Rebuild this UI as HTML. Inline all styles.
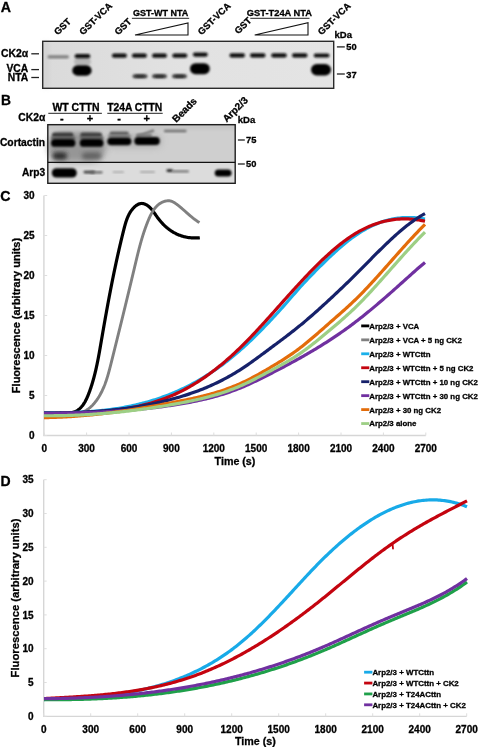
<!DOCTYPE html>
<html><head><meta charset="utf-8"><title>Figure</title>
<style>
html,body{margin:0;padding:0;background:#fff;width:480px;height:747px;overflow:hidden;}
svg{display:block;font-family:"Liberation Sans", sans-serif;filter:blur(0.35px);}
</style></head><body>
<svg width="480" height="747" viewBox="0 0 480 747" font-family='"Liberation Sans", sans-serif'>
<defs>
<filter id="b1" x="-50%" y="-50%" width="200%" height="200%"><feGaussianBlur stdDeviation="0.9"/></filter>
<filter id="b2" x="-50%" y="-50%" width="200%" height="200%"><feGaussianBlur stdDeviation="1.3"/></filter>
<filter id="b3" x="-50%" y="-50%" width="200%" height="200%"><feGaussianBlur stdDeviation="2"/></filter>
<filter id="b4" x="-50%" y="-50%" width="200%" height="200%"><feGaussianBlur stdDeviation="3"/></filter>
<linearGradient id="gA" x1="0" y1="0" x2="1" y2="0">
<stop offset="0" stop-color="#dadada"/><stop offset="0.5" stop-color="#e2e2e2"/><stop offset="1" stop-color="#e4e4e4"/></linearGradient>
</defs>
<text x="0.80" y="12.00" font-size="14.2" font-weight="bold" text-anchor="start" fill="#000" stroke="#000" stroke-width="0.3">A</text>
<text x="1.00" y="105.30" font-size="13.8" font-weight="bold" text-anchor="start" fill="#000" stroke="#000" stroke-width="0.3">B</text>
<text x="0.20" y="200.50" font-size="14.2" font-weight="bold" text-anchor="start" fill="#000" stroke="#000" stroke-width="0.3">C</text>
<text x="0.50" y="485.60" font-size="14" font-weight="bold" text-anchor="start" fill="#000" stroke="#000" stroke-width="0.3">D</text>
<rect x="42.7" y="41.3" width="291" height="47" fill="url(#gA)"/>
<rect x="43" y="42" width="6" height="46" fill="#cfcfcf" filter="url(#b3)" opacity="0.6"/>
<rect x="74.00" y="58.00" width="17.00" height="7.00" rx="3.50" fill="#8a8a8a" opacity="0.45" filter="url(#b2)"/>
<rect x="47.50" y="55.20" width="21.50" height="3.20" rx="1.60" fill="#808080" opacity="1" filter="url(#b1)"/>
<rect x="74.70" y="54.10" width="15.60" height="4.20" rx="2.10" fill="#111" opacity="1" filter="url(#b1)"/>
<rect x="72.30" y="65.15" width="19.30" height="10.50" rx="5.25" fill="#000" opacity="1" filter="url(#b1)"/>
<rect x="111.90" y="53.40" width="15.00" height="4.40" rx="2.20" fill="#0c0c0c" opacity="1" filter="url(#b1)"/>
<rect x="131.90" y="53.40" width="15.00" height="4.40" rx="2.20" fill="#0c0c0c" opacity="1" filter="url(#b1)"/>
<rect x="152.00" y="53.40" width="15.00" height="4.40" rx="2.20" fill="#0c0c0c" opacity="1" filter="url(#b1)"/>
<rect x="172.30" y="53.40" width="15.00" height="4.40" rx="2.20" fill="#0c0c0c" opacity="1" filter="url(#b1)"/>
<rect x="132.50" y="74.20" width="15.00" height="4.00" rx="2.00" fill="#4a4a4a" opacity="1" filter="url(#b1)"/>
<rect x="135.50" y="74.90" width="9.00" height="2.60" rx="1.30" fill="#2a2a2a" opacity="1" filter="url(#b1)"/>
<rect x="152.00" y="74.20" width="15.00" height="4.00" rx="2.00" fill="#4a4a4a" opacity="1" filter="url(#b1)"/>
<rect x="155.00" y="74.90" width="9.00" height="2.60" rx="1.30" fill="#2a2a2a" opacity="1" filter="url(#b1)"/>
<rect x="172.00" y="74.20" width="15.00" height="4.00" rx="2.00" fill="#4a4a4a" opacity="1" filter="url(#b1)"/>
<rect x="175.00" y="74.90" width="9.00" height="2.60" rx="1.30" fill="#2a2a2a" opacity="1" filter="url(#b1)"/>
<rect x="192.90" y="52.50" width="14.90" height="4.20" rx="2.10" fill="#111" opacity="1" filter="url(#b1)"/>
<rect x="190.00" y="63.20" width="19.80" height="11.00" rx="5.50" fill="#000" opacity="1" filter="url(#b1)"/>
<rect x="229.50" y="53.30" width="15.50" height="4.20" rx="2.10" fill="#0c0c0c" opacity="1" filter="url(#b1)"/>
<rect x="250.00" y="53.30" width="15.50" height="4.20" rx="2.10" fill="#0c0c0c" opacity="1" filter="url(#b1)"/>
<rect x="271.25" y="53.30" width="15.50" height="4.20" rx="2.10" fill="#0c0c0c" opacity="1" filter="url(#b1)"/>
<rect x="292.00" y="53.30" width="15.50" height="4.20" rx="2.10" fill="#0c0c0c" opacity="1" filter="url(#b1)"/>
<rect x="313.75" y="53.40" width="15.75" height="4.20" rx="2.10" fill="#111" opacity="1" filter="url(#b1)"/>
<rect x="311.00" y="63.95" width="20.00" height="11.50" rx="5.75" fill="#000" opacity="1" filter="url(#b1)"/>
<rect x="42.7" y="41.3" width="291" height="47" fill="none" stroke="#2a2a2a" stroke-width="1.4"/>
<text x="28.20" y="57.10" font-size="10.4" font-weight="bold" text-anchor="end" fill="#000" stroke="#000" stroke-width="0.3">CK2α</text>
<text x="28.20" y="71.60" font-size="10.3" font-weight="bold" text-anchor="end" fill="#000" stroke="#000" stroke-width="0.3">VCA</text>
<text x="28.20" y="81.30" font-size="10.3" font-weight="bold" text-anchor="end" fill="#000" stroke="#000" stroke-width="0.3">NTA</text>
<line x1="31.3" y1="53.8" x2="39" y2="53.8" stroke="#222" stroke-width="1.3"/>
<line x1="31.3" y1="69.6" x2="39" y2="69.6" stroke="#222" stroke-width="1.3"/>
<line x1="31.3" y1="77.5" x2="39" y2="77.5" stroke="#222" stroke-width="1.3"/>
<text x="334.50" y="37.70" font-size="9.5" font-weight="bold" text-anchor="start" fill="#000" stroke="#000" stroke-width="0.3">kDa</text>
<line x1="336.9" y1="46.9" x2="344.8" y2="46.9" stroke="#222" stroke-width="1.3"/>
<line x1="336.9" y1="74" x2="344.8" y2="74" stroke="#222" stroke-width="1.3"/>
<text x="346.30" y="50.00" font-size="9.3" font-weight="bold" text-anchor="start" fill="#000" stroke="#000" stroke-width="0.3">50</text>
<text x="346.30" y="77.50" font-size="9.3" font-weight="bold" text-anchor="start" fill="#000" stroke="#000" stroke-width="0.3">37</text>
<text x="57.80" y="35.60" font-size="9.3" font-weight="bold" text-anchor="start" fill="#000" transform="rotate(-44 57.80 35.60)" stroke="#000" stroke-width="0.3">GST</text>
<text x="83.00" y="35.40" font-size="9.3" font-weight="bold" text-anchor="start" fill="#000" transform="rotate(-44 83.00 35.40)" stroke="#000" stroke-width="0.3">GST-VCA</text>
<text x="118.30" y="35.60" font-size="9.3" font-weight="bold" text-anchor="start" fill="#000" transform="rotate(-44 118.30 35.60)" stroke="#000" stroke-width="0.3">GST</text>
<text x="201.50" y="35.40" font-size="9.3" font-weight="bold" text-anchor="start" fill="#000" transform="rotate(-44 201.50 35.40)" stroke="#000" stroke-width="0.3">GST-VCA</text>
<text x="238.30" y="34.60" font-size="9.3" font-weight="bold" text-anchor="start" fill="#000" transform="rotate(-44 238.30 34.60)" stroke="#000" stroke-width="0.3">GST</text>
<text x="321.50" y="35.40" font-size="9.3" font-weight="bold" text-anchor="start" fill="#000" transform="rotate(-44 321.50 35.40)" stroke="#000" stroke-width="0.3">GST-VCA</text>
<text x="160.60" y="16.30" font-size="9" font-weight="bold" text-anchor="middle" fill="#000" stroke="#000" stroke-width="0.3">GST-WT NTA</text>
<line x1="131.9" y1="18.3" x2="189.2" y2="18.3" stroke="#222" stroke-width="1"/>
<text x="279.40" y="16.30" font-size="9.3" font-weight="bold" text-anchor="middle" fill="#000" stroke="#000" stroke-width="0.3">GST-T24A NTA</text>
<line x1="250.3" y1="18.3" x2="309.5" y2="18.3" stroke="#222" stroke-width="1"/>
<path d="M135,35 L188,22.9 L188,35 Z" fill="none" stroke="#111" stroke-width="1.1" stroke-linejoin="miter"/>
<path d="M254.7,35 L308,22.7 L308,35 Z" fill="none" stroke="#111" stroke-width="1.1" stroke-linejoin="miter"/>
<rect x="47.8" y="124.7" width="187.4" height="37.5" fill="#cfcfcf"/>
<rect x="47.8" y="162.2" width="187.4" height="21" fill="#dcdcdc"/>
<rect x="48.00" y="132.00" width="58.00" height="30.00" rx="15.00" fill="#888888" opacity="0.8" filter="url(#b4)"/>
<rect x="106.00" y="134.00" width="56.00" height="14.00" rx="7.00" fill="#9a9a9a" opacity="0.5" filter="url(#b4)"/>
<rect x="47.8" y="124.7" width="187.4" height="5" fill="#c4c4c4" filter="url(#b2)" opacity="0.8"/>
<rect x="52.00" y="132.50" width="21.50" height="5.00" rx="2.50" fill="#3c3c3c" opacity="1" filter="url(#b1)"/>
<rect x="80.20" y="132.50" width="21.80" height="5.00" rx="2.50" fill="#424242" opacity="1" filter="url(#b1)"/>
<rect x="109.50" y="131.60" width="19.30" height="4.00" rx="2.00" fill="#606060" opacity="1" filter="url(#b1)"/>
<path d="M136.5,135.5 L153.5,129.2 L154.5,131.5 L137,137 Z" fill="#707070" filter="url(#b1)"/>
<rect x="136.00" y="133.70" width="16.00" height="3.00" rx="1.50" fill="#7a7a7a" opacity="1" filter="url(#b1)"/>
<rect x="51.00" y="136.50" width="24.40" height="3.00" rx="1.50" fill="#606060" opacity="1" filter="url(#b1)"/>
<rect x="80.00" y="136.50" width="23.50" height="3.00" rx="1.50" fill="#606060" opacity="1" filter="url(#b1)"/>
<rect x="108.00" y="134.70" width="23.00" height="2.60" rx="1.30" fill="#7a7a7a" opacity="1" filter="url(#b1)"/>
<rect x="51.00" y="139.00" width="24.40" height="7.80" rx="3.90" fill="#000" opacity="1" filter="url(#b1)"/>
<rect x="79.75" y="139.00" width="23.75" height="7.80" rx="3.90" fill="#000" opacity="1" filter="url(#b1)"/>
<rect x="107.30" y="137.40" width="24.10" height="7.80" rx="3.90" fill="#000" opacity="1" filter="url(#b1)"/>
<rect x="134.30" y="137.10" width="25.50" height="7.80" rx="3.90" fill="#000" opacity="1" filter="url(#b1)"/>
<rect x="52.50" y="152.25" width="14.50" height="7.50" rx="3.75" fill="#2a2a2a" opacity="0.95" filter="url(#b3)"/>
<rect x="82.00" y="152.50" width="19.50" height="7.00" rx="3.50" fill="#555" opacity="0.8" filter="url(#b3)"/>
<rect x="163.90" y="129.80" width="22.70" height="2.40" rx="1.20" fill="#707070" opacity="1" filter="url(#b1)"/>
<rect x="51.80" y="168.20" width="25.00" height="9.40" rx="4.70" fill="#000" opacity="1" filter="url(#b1)"/>
<rect x="83.50" y="170.80" width="11.50" height="2.60" rx="1.30" fill="#444" opacity="1" filter="url(#b1)"/>
<rect x="90.00" y="171.20" width="12.70" height="2.20" rx="1.10" fill="#666" opacity="1" filter="url(#b1)"/>
<rect x="112.70" y="171.30" width="11.30" height="1.80" rx="0.90" fill="#aaa" opacity="1" filter="url(#b1)"/>
<rect x="140.00" y="171.10" width="15.00" height="1.80" rx="0.90" fill="#aaa" opacity="1" filter="url(#b1)"/>
<rect x="166.50" y="169.20" width="6.50" height="2.80" rx="1.40" fill="#222" opacity="1" filter="url(#b1)"/>
<rect x="172.00" y="170.30" width="17.00" height="2.20" rx="1.10" fill="#777" opacity="1" filter="url(#b1)"/>
<rect x="214.70" y="169.40" width="16.90" height="7.20" rx="3.60" fill="#000" opacity="1" filter="url(#b1)"/>
<rect x="47.8" y="124.7" width="187.4" height="58.6" fill="none" stroke="#1e1e1e" stroke-width="1.4"/>
<line x1="47.8" y1="162.4" x2="235.2" y2="162.4" stroke="#111" stroke-width="1.4"/>
<text x="45.10" y="146.10" font-size="10.3" font-weight="bold" text-anchor="end" fill="#000" stroke="#000" stroke-width="0.3">Cortactin</text>
<text x="45.20" y="175.50" font-size="10.2" font-weight="bold" text-anchor="end" fill="#000" stroke="#000" stroke-width="0.3">Arp3</text>
<text x="45.30" y="120.80" font-size="10.3" font-weight="bold" text-anchor="end" fill="#000" stroke="#000" stroke-width="0.3">CK2α</text>
<text x="0" y="0" font-size="10.0" font-weight="bold" text-anchor="middle" fill="#000" transform="translate(76.00 111.00) scale(1.050 1)" stroke="#000" stroke-width="0.3">WT CTTN</text>
<line x1="48.3" y1="113.3" x2="101.9" y2="113.3" stroke="#222" stroke-width="1"/>
<text x="0" y="0" font-size="10.0" font-weight="bold" text-anchor="middle" fill="#000" transform="translate(134.70 111.00) scale(1.030 1)" stroke="#000" stroke-width="0.3">T24A CTTN</text>
<line x1="107.3" y1="113.3" x2="162.7" y2="113.3" stroke="#222" stroke-width="1"/>
<text x="61.90" y="122.00" font-size="11" font-weight="bold" text-anchor="middle" fill="#000" stroke="#000" stroke-width="0.3">-</text>
<text x="90.00" y="122.00" font-size="11" font-weight="bold" text-anchor="middle" fill="#000" stroke="#000" stroke-width="0.3">+</text>
<text x="119.00" y="122.00" font-size="11" font-weight="bold" text-anchor="middle" fill="#000" stroke="#000" stroke-width="0.3">-</text>
<text x="146.60" y="122.00" font-size="11" font-weight="bold" text-anchor="middle" fill="#000" stroke="#000" stroke-width="0.3">+</text>
<text x="176.30" y="123.00" font-size="10" font-weight="bold" text-anchor="start" fill="#000" transform="rotate(-45 176.30 123.00)" stroke="#000" stroke-width="0.3">Beads</text>
<text x="226.70" y="122.80" font-size="10" font-weight="bold" text-anchor="start" fill="#000" transform="rotate(-45 226.70 122.80)" stroke="#000" stroke-width="0.3">Arp2/3</text>
<text x="237.80" y="122.70" font-size="9.5" font-weight="bold" text-anchor="start" fill="#000" stroke="#000" stroke-width="0.3">kDa</text>
<line x1="237.9" y1="140" x2="244.8" y2="140" stroke="#222" stroke-width="1.3"/>
<line x1="237.9" y1="164" x2="244.8" y2="164" stroke="#222" stroke-width="1.3"/>
<text x="246.00" y="143.30" font-size="9.3" font-weight="bold" text-anchor="start" fill="#000" stroke="#000" stroke-width="0.3">75</text>
<text x="246.00" y="167.30" font-size="9.3" font-weight="bold" text-anchor="start" fill="#000" stroke="#000" stroke-width="0.3">50</text>
<line x1="43.90" y1="195.5" x2="43.90" y2="435.50" stroke="#d6d6d6" stroke-width="1.4"/>
<line x1="43.20" y1="435.50" x2="425.80" y2="435.50" stroke="#d6d6d6" stroke-width="1.3"/>
<line x1="44.20" y1="435.50" x2="47.20" y2="435.50" stroke="#dedede" stroke-width="1"/>
<text x="34.60" y="439.40" font-size="10" font-weight="bold" text-anchor="end" fill="#000" stroke="#000" stroke-width="0.3">0</text>
<line x1="44.20" y1="395.50" x2="47.20" y2="395.50" stroke="#dedede" stroke-width="1"/>
<text x="34.60" y="399.40" font-size="10" font-weight="bold" text-anchor="end" fill="#000" stroke="#000" stroke-width="0.3">5</text>
<line x1="44.20" y1="355.50" x2="47.20" y2="355.50" stroke="#dedede" stroke-width="1"/>
<text x="34.60" y="359.40" font-size="10" font-weight="bold" text-anchor="end" fill="#000" stroke="#000" stroke-width="0.3">10</text>
<line x1="44.20" y1="315.50" x2="47.20" y2="315.50" stroke="#dedede" stroke-width="1"/>
<text x="34.60" y="319.40" font-size="10" font-weight="bold" text-anchor="end" fill="#000" stroke="#000" stroke-width="0.3">15</text>
<line x1="44.20" y1="275.50" x2="47.20" y2="275.50" stroke="#dedede" stroke-width="1"/>
<text x="34.60" y="279.40" font-size="10" font-weight="bold" text-anchor="end" fill="#000" stroke="#000" stroke-width="0.3">20</text>
<line x1="44.20" y1="235.50" x2="47.20" y2="235.50" stroke="#dedede" stroke-width="1"/>
<text x="34.60" y="239.40" font-size="10" font-weight="bold" text-anchor="end" fill="#000" stroke="#000" stroke-width="0.3">25</text>
<line x1="44.20" y1="195.50" x2="47.20" y2="195.50" stroke="#dedede" stroke-width="1"/>
<text x="34.60" y="199.40" font-size="10" font-weight="bold" text-anchor="end" fill="#000" stroke="#000" stroke-width="0.3">30</text>
<line x1="44.20" y1="435.50" x2="44.20" y2="432.50" stroke="#dedede" stroke-width="1"/>
<text x="44.20" y="451.90" font-size="10" font-weight="bold" text-anchor="middle" fill="#000" stroke="#000" stroke-width="0.3">0</text>
<line x1="86.60" y1="435.50" x2="86.60" y2="432.50" stroke="#dedede" stroke-width="1"/>
<text x="86.60" y="451.90" font-size="10" font-weight="bold" text-anchor="middle" fill="#000" stroke="#000" stroke-width="0.3">300</text>
<line x1="129.00" y1="435.50" x2="129.00" y2="432.50" stroke="#dedede" stroke-width="1"/>
<text x="129.00" y="451.90" font-size="10" font-weight="bold" text-anchor="middle" fill="#000" stroke="#000" stroke-width="0.3">600</text>
<line x1="171.40" y1="435.50" x2="171.40" y2="432.50" stroke="#dedede" stroke-width="1"/>
<text x="171.40" y="451.90" font-size="10" font-weight="bold" text-anchor="middle" fill="#000" stroke="#000" stroke-width="0.3">900</text>
<line x1="213.80" y1="435.50" x2="213.80" y2="432.50" stroke="#dedede" stroke-width="1"/>
<text x="213.80" y="451.90" font-size="10" font-weight="bold" text-anchor="middle" fill="#000" stroke="#000" stroke-width="0.3">1200</text>
<line x1="256.20" y1="435.50" x2="256.20" y2="432.50" stroke="#dedede" stroke-width="1"/>
<text x="256.20" y="451.90" font-size="10" font-weight="bold" text-anchor="middle" fill="#000" stroke="#000" stroke-width="0.3">1500</text>
<line x1="298.60" y1="435.50" x2="298.60" y2="432.50" stroke="#dedede" stroke-width="1"/>
<text x="298.60" y="451.90" font-size="10" font-weight="bold" text-anchor="middle" fill="#000" stroke="#000" stroke-width="0.3">1800</text>
<line x1="341.00" y1="435.50" x2="341.00" y2="432.50" stroke="#dedede" stroke-width="1"/>
<text x="341.00" y="451.90" font-size="10" font-weight="bold" text-anchor="middle" fill="#000" stroke="#000" stroke-width="0.3">2100</text>
<line x1="383.40" y1="435.50" x2="383.40" y2="432.50" stroke="#dedede" stroke-width="1"/>
<text x="383.40" y="451.90" font-size="10" font-weight="bold" text-anchor="middle" fill="#000" stroke="#000" stroke-width="0.3">2400</text>
<line x1="425.80" y1="435.50" x2="425.80" y2="432.50" stroke="#dedede" stroke-width="1"/>
<text x="425.80" y="451.90" font-size="10" font-weight="bold" text-anchor="middle" fill="#000" stroke="#000" stroke-width="0.3">2700</text>
<text x="235.00" y="465.30" font-size="10.7" font-weight="bold" text-anchor="middle" fill="#000" stroke="#000" stroke-width="0.3">Time (s)</text>
<text x="20.20" y="315.50" font-size="11" font-weight="bold" text-anchor="middle" fill="#000" transform="rotate(-90 20.20 315.50)" stroke="#000" stroke-width="0.3">Fluorescence (arbitrary units)</text>
<path d="M44.00,412.70 L63.51,412.63 L64.31,412.75 L65.08,412.84 L65.84,412.91 L66.59,412.95 L67.32,412.98 L68.03,412.98 L68.72,412.95 L69.40,412.91 L70.07,412.85 L70.72,412.76 L71.35,412.66 L71.97,412.54 L72.58,412.39 L73.17,412.23 L73.75,412.05 L74.31,411.85 L74.86,411.63 L75.40,411.40 L75.93,411.15 L76.44,410.88 L76.94,410.60 L77.43,410.30 L77.91,409.99 L78.37,409.66 L78.82,409.32 L79.27,408.96 L79.70,408.59 L80.12,408.21 L80.53,407.81 L80.93,407.40 L81.33,406.98 L81.71,406.55 L82.08,406.10 L82.44,405.65 L82.80,405.19 L83.15,404.71 L83.48,404.23 L83.81,403.74 L84.14,403.23 L84.45,402.72 L84.76,402.21 L85.06,401.68 L85.35,401.15 L85.64,400.61 L85.92,400.07 L86.20,399.51 L86.47,398.96 L86.73,398.40 L86.99,397.83 L87.24,397.26 L87.49,396.69 L87.73,396.11 L87.97,395.53 L88.21,394.95 L88.44,394.36 L88.67,393.78 L88.90,393.19 L89.12,392.60 L89.34,392.01 L89.55,391.42 L89.77,390.83 L89.98,390.24 L90.19,389.65 L90.39,389.06 L90.60,388.46 L90.80,387.87 L91.00,387.28 L91.19,386.69 L91.39,386.09 L91.58,385.50 L91.77,384.90 L91.95,384.31 L92.14,383.71 L92.32,383.12 L92.50,382.52 L92.67,381.92 L92.85,381.33 L93.02,380.73 L93.19,380.13 L93.36,379.53 L93.53,378.93 L93.69,378.33 L93.86,377.73 L94.02,377.13 L94.18,376.53 L94.33,375.93 L94.49,375.33 L94.64,374.73 L94.79,374.13 L94.94,373.53 L95.09,372.93 L95.24,372.33 L95.38,371.72 L95.52,371.12 L95.67,370.52 L95.81,369.92 L95.94,369.31 L96.08,368.71 L96.22,368.10 L96.35,367.50 L96.48,366.90 L96.61,366.29 L96.74,365.69 L96.87,365.08 L97.00,364.48 L97.13,363.87 L97.25,363.27 L97.38,362.66 L97.50,362.06 L97.62,361.45 L97.74,360.84 L97.86,360.24 L97.98,359.63 L98.10,359.02 L98.21,358.42 L98.33,357.81 L98.44,357.20 L98.56,356.60 L98.67,355.99 L98.78,355.38 L98.90,354.78 L99.01,354.17 L99.12,353.56 L99.23,352.96 L99.34,352.35 L99.45,351.74 L99.55,351.13 L99.66,350.53 L99.77,349.92 L99.88,349.31 L99.98,348.70 L100.09,348.10 L100.19,347.49 L100.30,346.88 L100.40,346.27 L100.51,345.67 L100.61,345.06 L100.72,344.45 L100.82,343.84 L100.93,343.24 L101.03,342.63 L101.14,342.02 L101.24,341.41 L101.35,340.81 L101.45,340.20 L101.55,339.59 L101.66,338.99 L101.76,338.38 L101.87,337.77 L101.97,337.17 L102.08,336.56 L102.18,335.95 L102.29,335.35 L102.39,334.74 L102.50,334.14 L102.60,333.53 L102.71,332.92 L102.81,332.32 L102.92,331.71 L103.02,331.11 L103.13,330.50 L103.23,329.90 L103.34,329.29 L103.45,328.68 L103.55,328.08 L103.66,327.47 L103.76,326.87 L103.87,326.26 L103.98,325.66 L104.08,325.05 L104.19,324.45 L104.30,323.84 L104.40,323.24 L104.51,322.63 L104.62,322.03 L104.72,321.42 L104.83,320.82 L104.94,320.21 L105.05,319.61 L105.15,319.00 L105.26,318.40 L105.37,317.80 L105.48,317.19 L105.58,316.59 L105.69,315.98 L105.80,315.38 L105.91,314.77 L106.02,314.17 L106.13,313.56 L106.24,312.96 L106.35,312.36 L106.46,311.75 L106.57,311.15 L106.67,310.54 L106.78,309.94 L106.89,309.34 L107.01,308.73 L107.12,308.13 L107.23,307.53 L107.34,306.92 L107.45,306.32 L107.56,305.71 L107.67,305.11 L107.78,304.51 L107.89,303.90 L108.01,303.30 L108.12,302.70 L108.23,302.09 L108.34,301.49 L108.45,300.89 L108.57,300.28 L108.68,299.68 L108.79,299.08 L108.91,298.47 L109.02,297.87 L109.14,297.26 L109.25,296.66 L109.36,296.06 L109.48,295.45 L109.59,294.85 L109.71,294.25 L109.82,293.64 L109.94,293.04 L110.06,292.44 L110.17,291.84 L110.29,291.23 L110.40,290.63 L110.52,290.03 L110.64,289.42 L110.75,288.82 L110.87,288.22 L110.99,287.61 L111.11,287.01 L111.23,286.41 L111.34,285.80 L111.46,285.20 L111.58,284.60 L111.70,283.99 L111.82,283.39 L111.94,282.79 L112.06,282.18 L112.18,281.58 L112.30,280.98 L112.42,280.37 L112.54,279.77 L112.67,279.17 L112.79,278.56 L112.91,277.96 L113.03,277.36 L113.16,276.75 L113.28,276.15 L113.40,275.55 L113.53,274.94 L113.65,274.34 L113.77,273.74 L113.90,273.13 L114.02,272.53 L114.15,271.93 L114.27,271.32 L114.40,270.72 L114.53,270.12 L114.65,269.51 L114.78,268.91 L114.91,268.30 L115.03,267.70 L115.16,267.10 L115.29,266.49 L115.42,265.89 L115.55,265.29 L115.68,264.68 L115.81,264.08 L115.93,263.47 L116.07,262.87 L116.20,262.27 L116.33,261.66 L116.46,261.06 L116.59,260.45 L116.72,259.85 L116.85,259.25 L116.99,258.64 L117.12,258.04 L117.25,257.43 L117.39,256.83 L117.52,256.22 L117.66,255.62 L117.79,255.02 L117.93,254.41 L118.06,253.81 L118.20,253.20 L118.33,252.60 L118.47,251.99 L118.61,251.39 L118.75,250.78 L118.88,250.18 L119.02,249.57 L119.16,248.97 L119.30,248.36 L119.44,247.76 L119.58,247.15 L119.72,246.55 L119.86,245.94 L120.00,245.34 L120.14,244.73 L120.29,244.12 L120.43,243.52 L120.57,242.91 L120.72,242.31 L120.86,241.70 L121.00,241.10 L121.15,240.49 L121.29,239.88 L121.44,239.28 L121.59,238.67 L121.73,238.07 L121.88,237.46 L122.03,236.85 L122.17,236.25 L122.32,235.64 L122.47,235.03 L122.62,234.43 L122.77,233.82 L122.92,233.21 L123.07,232.61 L123.22,232.00 L123.37,231.39 L123.53,230.79 L123.68,230.18 L123.83,229.57 L123.99,228.96 L124.14,228.36 L124.30,227.75 L124.45,227.14 L124.61,226.54 L124.78,225.93 L124.94,225.33 L125.11,224.73 L125.28,224.13 L125.45,223.53 L125.63,222.93 L125.82,222.33 L126.00,221.74 L126.20,221.15 L126.40,220.56 L126.60,219.98 L126.81,219.40 L127.03,218.82 L127.25,218.24 L127.48,217.67 L127.72,217.10 L127.97,216.54 L128.22,215.98 L128.48,215.42 L128.76,214.87 L129.04,214.32 L129.33,213.78 L129.63,213.24 L129.94,212.71 L130.26,212.19 L130.60,211.67 L130.94,211.15 L131.30,210.64 L131.66,210.14 L132.04,209.65 L132.44,209.16 L132.84,208.68 L133.25,208.22 L133.67,207.77 L134.10,207.33 L134.54,206.91 L134.99,206.50 L135.45,206.12 L135.91,205.75 L136.38,205.41 L136.86,205.09 L137.34,204.79 L137.83,204.52 L138.33,204.28 L138.82,204.06 L139.33,203.88 L139.83,203.73 L140.34,203.61 L140.85,203.53 L141.36,203.48 L141.88,203.47 L142.39,203.50 L142.91,203.56 L143.42,203.66 L143.94,203.79 L144.45,203.95 L144.96,204.13 L145.47,204.35 L145.97,204.60 L146.47,204.87 L146.96,205.17 L147.45,205.49 L147.94,205.83 L148.42,206.20 L148.89,206.58 L149.35,206.99 L149.80,207.41 L150.25,207.85 L150.69,208.30 L151.11,208.77 L151.53,209.25 L151.94,209.74 L152.35,210.25 L152.74,210.76 L153.13,211.28 L153.52,211.81 L153.90,212.34 L154.28,212.88 L154.66,213.42 L155.04,213.97 L155.41,214.51 L155.79,215.06 L156.16,215.60 L156.54,216.14 L156.92,216.68 L157.30,217.22 L157.69,217.74 L158.08,218.27 L158.47,218.78 L158.87,219.30 L159.27,219.80 L159.67,220.30 L160.08,220.79 L160.49,221.28 L160.90,221.76 L161.32,222.24 L161.74,222.71 L162.17,223.17 L162.60,223.63 L163.03,224.08 L163.46,224.52 L163.90,224.96 L164.35,225.39 L164.79,225.82 L165.25,226.24 L165.70,226.65 L166.16,227.05 L166.62,227.45 L167.09,227.84 L167.55,228.23 L168.03,228.61 L168.50,228.98 L168.98,229.35 L169.47,229.71 L169.96,230.06 L170.45,230.40 L170.94,230.74 L171.44,231.07 L171.94,231.39 L172.45,231.71 L172.96,232.02 L173.47,232.32 L173.99,232.62 L174.51,232.90 L175.04,233.18 L175.56,233.45 L176.10,233.72 L176.63,233.98 L177.17,234.23 L177.72,234.47 L178.26,234.70 L178.81,234.93 L179.37,235.15 L179.93,235.36 L180.49,235.56 L181.06,235.76 L181.62,235.95 L182.20,236.13 L182.78,236.30 L183.36,236.46 L183.94,236.62 L184.53,236.76 L185.12,236.90 L185.72,237.03 L186.32,237.16 L186.93,237.27 L187.53,237.38 L188.14,237.47 L188.76,237.56 L189.38,237.64 L190.00,237.71 L190.63,237.78 L191.26,237.83 L191.90,237.88 L192.54,237.91 L193.18,237.94 L193.82,237.96 L194.47,237.97 L195.13,237.97 L195.79,237.96 L196.45,237.95 L197.11,237.92 L197.78,237.89 L198.46,237.84 L199.14,237.79 L199.82,237.72" fill="none" stroke="#000000" stroke-width="3.2" stroke-linecap="butt" stroke-linejoin="round"/>
<path d="M44.00,412.80 L69.71,412.46 L70.39,412.63 L71.05,412.77 L71.71,412.89 L72.36,412.99 L73.01,413.08 L73.64,413.14 L74.27,413.19 L74.89,413.21 L75.51,413.22 L76.12,413.22 L76.72,413.19 L77.31,413.15 L77.90,413.09 L78.48,413.01 L79.06,412.92 L79.63,412.82 L80.19,412.70 L80.74,412.56 L81.29,412.41 L81.83,412.24 L82.36,412.06 L82.89,411.87 L83.41,411.66 L83.93,411.44 L84.44,411.21 L84.94,410.96 L85.44,410.70 L85.92,410.43 L86.41,410.15 L86.89,409.86 L87.36,409.56 L87.82,409.24 L88.28,408.92 L88.73,408.58 L89.18,408.24 L89.62,407.89 L90.05,407.53 L90.48,407.16 L90.90,406.78 L91.32,406.39 L91.73,406.00 L92.14,405.60 L92.54,405.19 L92.93,404.77 L93.32,404.35 L93.70,403.92 L94.08,403.49 L94.45,403.05 L94.81,402.61 L95.17,402.16 L95.53,401.70 L95.88,401.25 L96.22,400.79 L96.56,400.32 L96.89,399.85 L97.22,399.38 L97.54,398.91 L97.86,398.43 L98.17,397.96 L98.48,397.47 L98.78,396.99 L99.08,396.51 L99.37,396.02 L99.66,395.53 L99.94,395.03 L100.22,394.54 L100.49,394.04 L100.76,393.54 L101.03,393.04 L101.29,392.53 L101.55,392.03 L101.80,391.52 L102.05,391.01 L102.29,390.50 L102.53,389.98 L102.77,389.46 L103.00,388.95 L103.23,388.43 L103.46,387.90 L103.68,387.38 L103.90,386.85 L104.12,386.33 L104.33,385.80 L104.54,385.27 L104.75,384.74 L104.95,384.20 L105.15,383.67 L105.34,383.13 L105.54,382.59 L105.73,382.05 L105.92,381.51 L106.11,380.97 L106.29,380.43 L106.47,379.88 L106.65,379.34 L106.82,378.79 L107.00,378.24 L107.17,377.69 L107.34,377.14 L107.51,376.59 L107.67,376.04 L107.84,375.49 L108.00,374.93 L108.16,374.38 L108.32,373.82 L108.48,373.27 L108.63,372.71 L108.79,372.15 L108.94,371.59 L109.09,371.03 L109.24,370.47 L109.39,369.91 L109.54,369.35 L109.69,368.79 L109.83,368.23 L109.98,367.67 L110.12,367.11 L110.27,366.54 L110.41,365.98 L110.55,365.42 L110.69,364.85 L110.84,364.29 L110.98,363.73 L111.12,363.16 L111.26,362.60 L111.40,362.04 L111.54,361.47 L111.68,360.91 L111.82,360.35 L111.97,359.78 L112.11,359.22 L112.25,358.66 L112.39,358.09 L112.53,357.53 L112.67,356.97 L112.81,356.40 L112.95,355.84 L113.09,355.28 L113.23,354.71 L113.37,354.15 L113.51,353.59 L113.66,353.02 L113.80,352.46 L113.94,351.90 L114.08,351.33 L114.22,350.77 L114.36,350.21 L114.50,349.65 L114.64,349.08 L114.78,348.52 L114.92,347.96 L115.06,347.39 L115.20,346.83 L115.34,346.27 L115.48,345.71 L115.62,345.14 L115.76,344.58 L115.90,344.02 L116.04,343.46 L116.18,342.89 L116.32,342.33 L116.46,341.77 L116.60,341.21 L116.74,340.64 L116.88,340.08 L117.02,339.52 L117.16,338.96 L117.29,338.40 L117.43,337.83 L117.57,337.27 L117.71,336.71 L117.85,336.15 L117.99,335.58 L118.13,335.02 L118.27,334.46 L118.41,333.90 L118.55,333.34 L118.69,332.77 L118.83,332.21 L118.96,331.65 L119.10,331.09 L119.24,330.53 L119.38,329.97 L119.52,329.40 L119.66,328.84 L119.80,328.28 L119.93,327.72 L120.07,327.16 L120.21,326.60 L120.35,326.04 L120.49,325.47 L120.63,324.91 L120.76,324.35 L120.90,323.79 L121.04,323.23 L121.18,322.67 L121.32,322.11 L121.45,321.55 L121.59,320.98 L121.73,320.42 L121.87,319.86 L122.01,319.30 L122.14,318.74 L122.28,318.18 L122.42,317.62 L122.56,317.06 L122.69,316.50 L122.83,315.94 L122.97,315.38 L123.11,314.82 L123.24,314.26 L123.38,313.70 L123.52,313.13 L123.65,312.57 L123.79,312.01 L123.93,311.45 L124.07,310.89 L124.20,310.33 L124.34,309.77 L124.48,309.21 L124.61,308.65 L124.75,308.09 L124.89,307.53 L125.02,306.97 L125.16,306.41 L125.30,305.85 L125.43,305.29 L125.57,304.73 L125.70,304.17 L125.84,303.61 L125.98,303.05 L126.11,302.49 L126.25,301.93 L126.39,301.38 L126.52,300.82 L126.66,300.26 L126.79,299.70 L126.93,299.14 L127.06,298.58 L127.20,298.02 L127.34,297.46 L127.47,296.90 L127.61,296.34 L127.74,295.78 L127.88,295.22 L128.01,294.66 L128.15,294.11 L128.28,293.55 L128.42,292.99 L128.55,292.43 L128.69,291.87 L128.82,291.31 L128.96,290.75 L129.09,290.20 L129.23,289.64 L129.36,289.08 L129.50,288.52 L129.63,287.96 L129.76,287.40 L129.90,286.84 L130.03,286.29 L130.17,285.73 L130.30,285.17 L130.44,284.61 L130.57,284.05 L130.70,283.50 L130.84,282.94 L130.97,282.38 L131.11,281.82 L131.24,281.26 L131.37,280.71 L131.51,280.15 L131.64,279.59 L131.77,279.03 L131.91,278.48 L132.04,277.92 L132.17,277.36 L132.31,276.80 L132.44,276.25 L132.57,275.69 L132.71,275.13 L132.84,274.58 L132.97,274.02 L133.11,273.46 L133.24,272.90 L133.37,272.35 L133.50,271.79 L133.64,271.23 L133.77,270.68 L133.90,270.12 L134.03,269.56 L134.17,269.01 L134.30,268.45 L134.43,267.89 L134.56,267.34 L134.69,266.78 L134.83,266.23 L134.96,265.67 L135.09,265.11 L135.22,264.56 L135.35,264.00 L135.49,263.44 L135.62,262.89 L135.75,262.33 L135.88,261.78 L136.01,261.22 L136.15,260.67 L136.28,260.11 L136.41,259.55 L136.54,259.00 L136.68,258.44 L136.81,257.89 L136.95,257.33 L137.08,256.78 L137.22,256.22 L137.35,255.66 L137.49,255.11 L137.62,254.55 L137.76,254.00 L137.90,253.44 L138.04,252.89 L138.18,252.33 L138.31,251.78 L138.46,251.22 L138.60,250.67 L138.74,250.11 L138.88,249.55 L139.02,249.00 L139.17,248.44 L139.31,247.89 L139.46,247.33 L139.61,246.78 L139.75,246.22 L139.90,245.67 L140.05,245.11 L140.21,244.56 L140.36,244.00 L140.51,243.44 L140.67,242.89 L140.82,242.33 L140.98,241.78 L141.14,241.22 L141.30,240.67 L141.46,240.11 L141.62,239.55 L141.78,239.00 L141.95,238.44 L142.12,237.89 L142.28,237.33 L142.45,236.78 L142.62,236.22 L142.80,235.66 L142.97,235.11 L143.15,234.55 L143.32,233.99 L143.50,233.44 L143.68,232.88 L143.87,232.33 L144.05,231.77 L144.24,231.21 L144.43,230.66 L144.62,230.10 L144.81,229.54 L145.00,228.99 L145.20,228.43 L145.40,227.87 L145.60,227.32 L145.80,226.76 L146.00,226.20 L146.21,225.64 L146.42,225.09 L146.63,224.53 L146.84,223.97 L147.06,223.41 L147.27,222.86 L147.49,222.30 L147.71,221.74 L147.94,221.18 L148.17,220.63 L148.40,220.07 L148.63,219.52 L148.86,218.96 L149.10,218.41 L149.35,217.86 L149.59,217.32 L149.84,216.77 L150.10,216.23 L150.36,215.70 L150.62,215.16 L150.89,214.64 L151.16,214.11 L151.44,213.59 L151.72,213.08 L152.01,212.57 L152.30,212.07 L152.60,211.57 L152.90,211.08 L153.21,210.60 L153.52,210.13 L153.84,209.66 L154.17,209.20 L154.50,208.75 L154.84,208.31 L155.19,207.87 L155.55,207.45 L155.91,207.03 L156.27,206.63 L156.65,206.23 L157.03,205.85 L157.42,205.48 L157.82,205.11 L158.23,204.76 L158.64,204.43 L159.07,204.10 L159.50,203.79 L159.94,203.48 L160.39,203.20 L160.85,202.92 L161.32,202.66 L161.79,202.42 L162.28,202.19 L162.78,201.97 L163.28,201.77 L163.80,201.58 L164.32,201.41 L164.86,201.26 L165.41,201.12 L165.96,201.01 L166.52,200.91 L167.09,200.83 L167.66,200.78 L168.23,200.76 L168.80,200.76 L169.37,200.79 L169.93,200.85 L170.48,200.95 L171.03,201.08 L171.56,201.25 L172.09,201.45 L172.60,201.68 L173.11,201.94 L173.61,202.22 L174.11,202.52 L174.60,202.83 L175.09,203.15 L175.57,203.47 L176.05,203.81 L176.53,204.15 L177.01,204.50 L177.48,204.85 L177.95,205.21 L178.41,205.57 L178.88,205.94 L179.34,206.31 L179.80,206.69 L180.25,207.07 L180.70,207.45 L181.15,207.83 L181.60,208.21 L182.05,208.60 L182.49,208.98 L182.93,209.37 L183.37,209.75 L183.80,210.13 L184.24,210.51 L184.67,210.90 L185.10,211.28 L185.53,211.66 L185.96,212.04 L186.39,212.42 L186.82,212.80 L187.24,213.17 L187.67,213.55 L188.10,213.92 L188.53,214.30 L188.95,214.67 L189.38,215.04 L189.81,215.41 L190.24,215.77 L190.68,216.14 L191.11,216.50 L191.55,216.86 L191.98,217.22 L192.42,217.58 L192.87,217.93 L193.31,218.29 L193.76,218.64 L194.21,218.99 L194.66,219.33 L195.12,219.67 L195.58,220.01 L196.05,220.35 L196.52,220.69 L196.99,221.02 L197.47,221.35 L197.95,221.67 L198.44,221.99 L198.93,222.31 L199.43,222.63" fill="none" stroke="#808080" stroke-width="2.9" stroke-linecap="butt" stroke-linejoin="round"/>
<path d="M44.00,413.11 L45.50,413.10 L47.00,413.09 L48.50,413.08 L50.00,413.07 L51.50,413.06 L53.00,413.04 L54.50,413.02 L56.00,413.00 L57.50,412.98 L59.00,412.95 L60.50,412.92 L62.00,412.89 L63.50,412.86 L65.00,412.82 L66.50,412.78 L68.00,412.74 L69.50,412.69 L71.00,412.64 L72.50,412.58 L74.00,412.52 L75.50,412.46 L77.00,412.39 L78.50,412.32 L80.00,412.24 L81.50,412.16 L83.00,412.08 L84.50,411.98 L86.00,411.89 L87.50,411.79 L89.00,411.68 L90.50,411.57 L92.00,411.45 L93.50,411.33 L95.00,411.20 L96.50,411.06 L98.00,410.92 L99.50,410.77 L101.00,410.62 L102.50,410.46 L104.00,410.29 L105.50,410.12 L107.00,409.94 L108.50,409.75 L110.00,409.55 L111.50,409.35 L113.00,409.14 L114.50,408.92 L116.00,408.70 L117.50,408.47 L119.00,408.22 L120.50,407.97 L122.00,407.72 L123.50,407.45 L125.00,407.18 L126.50,406.89 L128.00,406.60 L129.50,406.30 L131.00,405.99 L132.50,405.67 L134.00,405.34 L135.50,405.00 L137.00,404.65 L138.50,404.29 L140.00,403.93 L141.50,403.55 L143.00,403.16 L144.50,402.76 L146.00,402.35 L147.50,401.93 L149.00,401.50 L150.50,401.06 L152.00,400.61 L153.50,400.15 L155.00,399.67 L156.50,399.19 L158.00,398.69 L159.50,398.18 L161.00,397.66 L162.50,397.13 L164.00,396.58 L165.50,396.03 L167.00,395.46 L168.50,394.88 L170.00,394.28 L171.50,393.67 L173.00,393.06 L174.50,392.42 L176.00,391.78 L177.50,391.12 L179.00,390.44 L180.50,389.76 L182.00,389.06 L183.50,388.34 L185.00,387.62 L186.50,386.88 L188.00,386.12 L189.50,385.35 L191.00,384.57 L192.50,383.77 L194.00,382.95 L195.50,382.13 L197.00,381.28 L198.50,380.43 L200.00,379.55 L201.50,378.67 L203.00,377.76 L204.50,376.84 L206.00,375.91 L207.50,374.96 L209.00,374.00 L210.50,373.02 L212.00,372.02 L213.50,371.01 L215.00,369.98 L216.50,368.93 L218.00,367.87 L219.50,366.80 L221.00,365.70 L222.50,364.59 L224.00,363.46 L225.50,362.32 L227.00,361.16 L228.50,359.98 L230.00,358.78 L231.50,357.57 L233.00,356.34 L234.50,355.09 L236.00,353.83 L237.50,352.54 L239.00,351.24 L240.50,349.92 L242.00,348.59 L243.50,347.23 L245.00,345.86 L246.50,344.47 L248.00,343.07 L249.50,341.65 L251.00,340.22 L252.50,338.77 L254.00,337.31 L255.50,335.83 L257.00,334.34 L258.50,332.84 L260.00,331.33 L261.50,329.80 L263.00,328.26 L264.50,326.72 L266.00,325.16 L267.50,323.59 L269.00,322.02 L270.50,320.43 L272.00,318.84 L273.50,317.24 L275.00,315.62 L276.50,314.00 L278.00,312.36 L279.50,310.71 L281.00,309.05 L282.50,307.37 L284.00,305.68 L285.50,303.97 L287.00,302.25 L288.50,300.52 L290.00,298.79 L291.50,297.05 L293.00,295.32 L294.50,293.59 L296.00,291.87 L297.50,290.17 L299.00,288.47 L300.50,286.80 L302.00,285.14 L303.50,283.51 L305.00,281.89 L306.50,280.29 L308.00,278.71 L309.50,277.14 L311.00,275.58 L312.50,274.04 L314.00,272.51 L315.50,270.99 L317.00,269.48 L318.50,267.97 L320.00,266.48 L321.50,264.99 L323.00,263.51 L324.50,262.04 L326.00,260.58 L327.50,259.13 L329.00,257.69 L330.50,256.27 L332.00,254.86 L333.50,253.47 L335.00,252.09 L336.50,250.73 L338.00,249.39 L339.50,248.07 L341.00,246.77 L342.50,245.49 L344.00,244.23 L345.50,242.99 L347.00,241.78 L348.50,240.60 L350.00,239.44 L351.50,238.31 L353.00,237.21 L354.50,236.14 L356.00,235.10 L357.50,234.09 L359.00,233.11 L360.50,232.16 L362.00,231.24 L363.50,230.35 L365.00,229.50 L366.50,228.67 L368.00,227.87 L369.50,227.10 L371.00,226.37 L372.50,225.66 L374.00,224.98 L375.50,224.34 L377.00,223.72 L378.50,223.13 L380.00,222.57 L381.50,222.05 L383.00,221.55 L384.50,221.08 L386.00,220.64 L387.50,220.22 L389.00,219.84 L390.50,219.49 L392.00,219.16 L393.50,218.87 L395.00,218.60 L396.50,218.36 L398.00,218.15 L399.50,217.97 L401.00,217.82 L402.50,217.69 L404.00,217.60 L405.50,217.53 L407.00,217.49 L408.50,217.48 L410.00,217.49 L411.50,217.54 L413.00,217.61 L414.50,217.71 L416.00,217.83 L417.50,217.99 L419.00,218.17 L420.50,218.38 L422.00,218.61 L423.50,218.88 L425.00,219.17" fill="none" stroke="#1ab0ea" stroke-width="3.2" stroke-linecap="butt" stroke-linejoin="round"/>
<path d="M44.00,413.93 L45.50,413.86 L47.00,413.79 L48.50,413.73 L50.00,413.66 L51.50,413.60 L53.00,413.55 L54.50,413.49 L56.00,413.44 L57.50,413.39 L59.00,413.34 L60.50,413.29 L62.00,413.24 L63.50,413.19 L65.00,413.14 L66.50,413.09 L68.00,413.05 L69.50,413.00 L71.00,412.95 L72.50,412.90 L74.00,412.85 L75.50,412.80 L77.00,412.74 L78.50,412.69 L80.00,412.63 L81.50,412.57 L83.00,412.50 L84.50,412.44 L86.00,412.37 L87.50,412.30 L89.00,412.22 L90.50,412.14 L92.00,412.06 L93.50,411.97 L95.00,411.88 L96.50,411.78 L98.00,411.68 L99.50,411.58 L101.00,411.46 L102.50,411.35 L104.00,411.22 L105.50,411.09 L107.00,410.96 L108.50,410.82 L110.00,410.67 L111.50,410.51 L113.00,410.35 L114.50,410.18 L116.00,410.00 L117.50,409.81 L119.00,409.61 L120.50,409.41 L122.00,409.20 L123.50,408.98 L125.00,408.75 L126.50,408.51 L128.00,408.26 L129.50,408.00 L131.00,407.73 L132.50,407.45 L134.00,407.16 L135.50,406.86 L137.00,406.54 L138.50,406.22 L140.00,405.89 L141.50,405.54 L143.00,405.18 L144.50,404.81 L146.00,404.42 L147.50,404.03 L149.00,403.62 L150.50,403.20 L152.00,402.76 L153.50,402.31 L155.00,401.85 L156.50,401.37 L158.00,400.88 L159.50,400.37 L161.00,399.85 L162.50,399.31 L164.00,398.76 L165.50,398.19 L167.00,397.61 L168.50,397.01 L170.00,396.39 L171.50,395.76 L173.00,395.11 L174.50,394.44 L176.00,393.76 L177.50,393.06 L179.00,392.34 L180.50,391.60 L182.00,390.85 L183.50,390.08 L185.00,389.28 L186.50,388.48 L188.00,387.65 L189.50,386.80 L191.00,385.94 L192.50,385.06 L194.00,384.16 L195.50,383.24 L197.00,382.31 L198.50,381.35 L200.00,380.38 L201.50,379.39 L203.00,378.39 L204.50,377.36 L206.00,376.32 L207.50,375.26 L209.00,374.18 L210.50,373.08 L212.00,371.97 L213.50,370.83 L215.00,369.68 L216.50,368.51 L218.00,367.33 L219.50,366.12 L221.00,364.90 L222.50,363.66 L224.00,362.40 L225.50,361.13 L227.00,359.83 L228.50,358.52 L230.00,357.19 L231.50,355.85 L233.00,354.48 L234.50,353.10 L236.00,351.70 L237.50,350.28 L239.00,348.84 L240.50,347.39 L242.00,345.92 L243.50,344.43 L245.00,342.93 L246.50,341.41 L248.00,339.87 L249.50,338.33 L251.00,336.76 L252.50,335.19 L254.00,333.60 L255.50,332.01 L257.00,330.40 L258.50,328.78 L260.00,327.15 L261.50,325.52 L263.00,323.87 L264.50,322.22 L266.00,320.57 L267.50,318.90 L269.00,317.24 L270.50,315.57 L272.00,313.89 L273.50,312.21 L275.00,310.53 L276.50,308.85 L278.00,307.17 L279.50,305.48 L281.00,303.80 L282.50,302.12 L284.00,300.44 L285.50,298.76 L287.00,297.09 L288.50,295.42 L290.00,293.75 L291.50,292.09 L293.00,290.43 L294.50,288.78 L296.00,287.13 L297.50,285.50 L299.00,283.87 L300.50,282.24 L302.00,280.63 L303.50,279.03 L305.00,277.43 L306.50,275.85 L308.00,274.27 L309.50,272.71 L311.00,271.16 L312.50,269.63 L314.00,268.10 L315.50,266.59 L317.00,265.10 L318.50,263.62 L320.00,262.15 L321.50,260.71 L323.00,259.28 L324.50,257.86 L326.00,256.46 L327.50,255.09 L329.00,253.73 L330.50,252.39 L332.00,251.07 L333.50,249.77 L335.00,248.50 L336.50,247.24 L338.00,246.01 L339.50,244.80 L341.00,243.62 L342.50,242.46 L344.00,241.32 L345.50,240.21 L347.00,239.13 L348.50,238.07 L350.00,237.04 L351.50,236.03 L353.00,235.06 L354.50,234.11 L356.00,233.20 L357.50,232.31 L359.00,231.45 L360.50,230.63 L362.00,229.83 L363.50,229.06 L365.00,228.32 L366.50,227.61 L368.00,226.92 L369.50,226.27 L371.00,225.64 L372.50,225.05 L374.00,224.48 L375.50,223.94 L377.00,223.43 L378.50,222.94 L380.00,222.49 L381.50,222.06 L383.00,221.66 L384.50,221.28 L386.00,220.94 L387.50,220.62 L389.00,220.33 L390.50,220.06 L392.00,219.83 L393.50,219.62 L395.00,219.43 L396.50,219.28 L398.00,219.15 L399.50,219.04 L401.00,218.97 L402.50,218.91 L404.00,218.89 L405.50,218.89 L407.00,218.92 L408.50,218.97 L410.00,219.05 L411.50,219.15 L413.00,219.28 L414.50,219.43 L416.00,219.61 L417.50,219.81 L419.00,220.04 L420.50,220.30 L422.00,220.58 L423.50,220.88 L425.00,221.21" fill="none" stroke="#c4040f" stroke-width="3.2" stroke-linecap="butt" stroke-linejoin="round"/>
<path d="M44.00,413.16 L45.50,413.15 L47.00,413.13 L48.50,413.12 L50.00,413.11 L51.50,413.09 L53.00,413.07 L54.50,413.05 L56.00,413.03 L57.50,413.01 L59.00,412.98 L60.50,412.95 L62.00,412.92 L63.50,412.88 L65.00,412.85 L66.50,412.81 L68.00,412.77 L69.50,412.72 L71.00,412.68 L72.50,412.63 L74.00,412.57 L75.50,412.52 L77.00,412.46 L78.50,412.40 L80.00,412.33 L81.50,412.26 L83.00,412.19 L84.50,412.12 L86.00,412.04 L87.50,411.95 L89.00,411.87 L90.50,411.78 L92.00,411.68 L93.50,411.59 L95.00,411.49 L96.50,411.38 L98.00,411.27 L99.50,411.16 L101.00,411.04 L102.50,410.91 L104.00,410.79 L105.50,410.66 L107.00,410.52 L108.50,410.38 L110.00,410.23 L111.50,410.08 L113.00,409.93 L114.50,409.77 L116.00,409.60 L117.50,409.43 L119.00,409.26 L120.50,409.08 L122.00,408.89 L123.50,408.70 L125.00,408.51 L126.50,408.30 L128.00,408.10 L129.50,407.88 L131.00,407.66 L132.50,407.44 L134.00,407.21 L135.50,406.97 L137.00,406.73 L138.50,406.48 L140.00,406.23 L141.50,405.96 L143.00,405.70 L144.50,405.42 L146.00,405.14 L147.50,404.86 L149.00,404.56 L150.50,404.26 L152.00,403.96 L153.50,403.64 L155.00,403.32 L156.50,402.99 L158.00,402.66 L159.50,402.32 L161.00,401.97 L162.50,401.61 L164.00,401.25 L165.50,400.88 L167.00,400.50 L168.50,400.11 L170.00,399.72 L171.50,399.32 L173.00,398.91 L174.50,398.49 L176.00,398.07 L177.50,397.63 L179.00,397.19 L180.50,396.74 L182.00,396.29 L183.50,395.82 L185.00,395.35 L186.50,394.86 L188.00,394.37 L189.50,393.87 L191.00,393.36 L192.50,392.83 L194.00,392.30 L195.50,391.76 L197.00,391.21 L198.50,390.64 L200.00,390.07 L201.50,389.48 L203.00,388.89 L204.50,388.28 L206.00,387.66 L207.50,387.02 L209.00,386.38 L210.50,385.72 L212.00,385.05 L213.50,384.37 L215.00,383.67 L216.50,382.96 L218.00,382.24 L219.50,381.50 L221.00,380.75 L222.50,379.98 L224.00,379.20 L225.50,378.40 L227.00,377.59 L228.50,376.76 L230.00,375.92 L231.50,375.07 L233.00,374.19 L234.50,373.30 L236.00,372.40 L237.50,371.47 L239.00,370.53 L240.50,369.58 L242.00,368.60 L243.50,367.61 L245.00,366.61 L246.50,365.59 L248.00,364.56 L249.50,363.51 L251.00,362.46 L252.50,361.39 L254.00,360.32 L255.50,359.23 L257.00,358.14 L258.50,357.04 L260.00,355.94 L261.50,354.83 L263.00,353.72 L264.50,352.60 L266.00,351.49 L267.50,350.37 L269.00,349.25 L270.50,348.13 L272.00,347.02 L273.50,345.90 L275.00,344.78 L276.50,343.67 L278.00,342.55 L279.50,341.43 L281.00,340.30 L282.50,339.18 L284.00,338.05 L285.50,336.91 L287.00,335.77 L288.50,334.62 L290.00,333.47 L291.50,332.30 L293.00,331.13 L294.50,329.95 L296.00,328.76 L297.50,327.56 L299.00,326.35 L300.50,325.13 L302.00,323.90 L303.50,322.65 L305.00,321.39 L306.50,320.12 L308.00,318.84 L309.50,317.56 L311.00,316.26 L312.50,314.95 L314.00,313.63 L315.50,312.31 L317.00,310.97 L318.50,309.63 L320.00,308.28 L321.50,306.92 L323.00,305.56 L324.50,304.19 L326.00,302.81 L327.50,301.43 L329.00,300.04 L330.50,298.65 L332.00,297.25 L333.50,295.85 L335.00,294.45 L336.50,293.03 L338.00,291.62 L339.50,290.19 L341.00,288.77 L342.50,287.33 L344.00,285.89 L345.50,284.45 L347.00,282.99 L348.50,281.54 L350.00,280.07 L351.50,278.60 L353.00,277.12 L354.50,275.63 L356.00,274.14 L357.50,272.64 L359.00,271.14 L360.50,269.63 L362.00,268.11 L363.50,266.60 L365.00,265.08 L366.50,263.56 L368.00,262.04 L369.50,260.52 L371.00,259.01 L372.50,257.49 L374.00,255.99 L375.50,254.48 L377.00,252.98 L378.50,251.49 L380.00,250.00 L381.50,248.53 L383.00,247.06 L384.50,245.60 L386.00,244.15 L387.50,242.72 L389.00,241.30 L390.50,239.89 L392.00,238.50 L393.50,237.13 L395.00,235.77 L396.50,234.43 L398.00,233.10 L399.50,231.80 L401.00,230.52 L402.50,229.26 L404.00,228.02 L405.50,226.80 L407.00,225.61 L408.50,224.45 L410.00,223.31 L411.50,222.20 L413.00,221.11 L414.50,220.06 L416.00,219.04 L417.50,218.04 L419.00,217.08 L420.50,216.15 L422.00,215.25 L423.50,214.39 L425.00,213.57" fill="none" stroke="#16216a" stroke-width="3.2" stroke-linecap="butt" stroke-linejoin="round"/>
<path d="M44.00,413.40 L45.50,413.39 L47.00,413.38 L48.50,413.37 L50.00,413.36 L51.50,413.34 L53.00,413.33 L54.50,413.31 L56.00,413.29 L57.50,413.27 L59.00,413.25 L60.50,413.23 L62.00,413.21 L63.50,413.18 L65.00,413.16 L66.50,413.13 L68.00,413.10 L69.50,413.07 L71.00,413.04 L72.50,413.00 L74.00,412.97 L75.50,412.93 L77.00,412.89 L78.50,412.85 L80.00,412.81 L81.50,412.77 L83.00,412.72 L84.50,412.67 L86.00,412.62 L87.50,412.57 L89.00,412.52 L90.50,412.46 L92.00,412.40 L93.50,412.34 L95.00,412.28 L96.50,412.22 L98.00,412.15 L99.50,412.08 L101.00,412.01 L102.50,411.94 L104.00,411.86 L105.50,411.78 L107.00,411.70 L108.50,411.62 L110.00,411.53 L111.50,411.44 L113.00,411.35 L114.50,411.26 L116.00,411.16 L117.50,411.06 L119.00,410.96 L120.50,410.85 L122.00,410.75 L123.50,410.64 L125.00,410.52 L126.50,410.41 L128.00,410.29 L129.50,410.16 L131.00,410.04 L132.50,409.91 L134.00,409.78 L135.50,409.64 L137.00,409.51 L138.50,409.36 L140.00,409.22 L141.50,409.07 L143.00,408.92 L144.50,408.76 L146.00,408.61 L147.50,408.44 L149.00,408.28 L150.50,408.11 L152.00,407.94 L153.50,407.76 L155.00,407.58 L156.50,407.40 L158.00,407.21 L159.50,407.02 L161.00,406.83 L162.50,406.63 L164.00,406.43 L165.50,406.22 L167.00,406.01 L168.50,405.79 L170.00,405.58 L171.50,405.35 L173.00,405.13 L174.50,404.90 L176.00,404.66 L177.50,404.42 L179.00,404.18 L180.50,403.93 L182.00,403.68 L183.50,403.42 L185.00,403.16 L186.50,402.89 L188.00,402.62 L189.50,402.34 L191.00,402.06 L192.50,401.77 L194.00,401.47 L195.50,401.17 L197.00,400.86 L198.50,400.55 L200.00,400.22 L201.50,399.89 L203.00,399.55 L204.50,399.21 L206.00,398.85 L207.50,398.49 L209.00,398.12 L210.50,397.74 L212.00,397.35 L213.50,396.95 L215.00,396.54 L216.50,396.12 L218.00,395.70 L219.50,395.26 L221.00,394.81 L222.50,394.35 L224.00,393.88 L225.50,393.40 L227.00,392.90 L228.50,392.40 L230.00,391.88 L231.50,391.35 L233.00,390.81 L234.50,390.26 L236.00,389.69 L237.50,389.11 L239.00,388.52 L240.50,387.91 L242.00,387.30 L243.50,386.66 L245.00,386.02 L246.50,385.36 L248.00,384.69 L249.50,384.01 L251.00,383.33 L252.50,382.63 L254.00,381.92 L255.50,381.21 L257.00,380.48 L258.50,379.75 L260.00,379.02 L261.50,378.28 L263.00,377.53 L264.50,376.78 L266.00,376.02 L267.50,375.26 L269.00,374.50 L270.50,373.73 L272.00,372.96 L273.50,372.19 L275.00,371.42 L276.50,370.64 L278.00,369.86 L279.50,369.08 L281.00,368.30 L282.50,367.51 L284.00,366.72 L285.50,365.92 L287.00,365.13 L288.50,364.32 L290.00,363.52 L291.50,362.71 L293.00,361.89 L294.50,361.07 L296.00,360.25 L297.50,359.42 L299.00,358.58 L300.50,357.74 L302.00,356.90 L303.50,356.05 L305.00,355.19 L306.50,354.33 L308.00,353.46 L309.50,352.59 L311.00,351.71 L312.50,350.82 L314.00,349.93 L315.50,349.03 L317.00,348.12 L318.50,347.21 L320.00,346.29 L321.50,345.36 L323.00,344.42 L324.50,343.48 L326.00,342.53 L327.50,341.57 L329.00,340.60 L330.50,339.63 L332.00,338.64 L333.50,337.65 L335.00,336.65 L336.50,335.63 L338.00,334.61 L339.50,333.58 L341.00,332.55 L342.50,331.50 L344.00,330.44 L345.50,329.37 L347.00,328.29 L348.50,327.20 L350.00,326.10 L351.50,324.99 L353.00,323.87 L354.50,322.74 L356.00,321.60 L357.50,320.45 L359.00,319.28 L360.50,318.11 L362.00,316.93 L363.50,315.73 L365.00,314.53 L366.50,313.32 L368.00,312.10 L369.50,310.87 L371.00,309.63 L372.50,308.38 L374.00,307.13 L375.50,305.87 L377.00,304.60 L378.50,303.32 L380.00,302.04 L381.50,300.75 L383.00,299.46 L384.50,298.16 L386.00,296.85 L387.50,295.54 L389.00,294.23 L390.50,292.91 L392.00,291.58 L393.50,290.25 L395.00,288.92 L396.50,287.59 L398.00,286.25 L399.50,284.91 L401.00,283.56 L402.50,282.22 L404.00,280.87 L405.50,279.52 L407.00,278.17 L408.50,276.82 L410.00,275.47 L411.50,274.12 L413.00,272.78 L414.50,271.45 L416.00,270.12 L417.50,268.81 L419.00,267.51 L420.50,266.22 L422.00,264.94 L423.50,263.69 L425.00,262.45" fill="none" stroke="#7030a0" stroke-width="3.2" stroke-linecap="butt" stroke-linejoin="round"/>
<path d="M44.00,417.65 L45.50,417.63 L47.00,417.60 L48.50,417.56 L50.00,417.52 L51.50,417.48 L53.00,417.43 L54.50,417.38 L56.00,417.33 L57.50,417.27 L59.00,417.20 L60.50,417.13 L62.00,417.06 L63.50,416.98 L65.00,416.90 L66.50,416.82 L68.00,416.73 L69.50,416.64 L71.00,416.54 L72.50,416.44 L74.00,416.34 L75.50,416.23 L77.00,416.12 L78.50,416.00 L80.00,415.88 L81.50,415.76 L83.00,415.63 L84.50,415.50 L86.00,415.36 L87.50,415.23 L89.00,415.08 L90.50,414.94 L92.00,414.79 L93.50,414.64 L95.00,414.48 L96.50,414.32 L98.00,414.16 L99.50,413.99 L101.00,413.83 L102.50,413.65 L104.00,413.48 L105.50,413.30 L107.00,413.12 L108.50,412.93 L110.00,412.74 L111.50,412.55 L113.00,412.36 L114.50,412.16 L116.00,411.96 L117.50,411.76 L119.00,411.55 L120.50,411.34 L122.00,411.13 L123.50,410.91 L125.00,410.69 L126.50,410.47 L128.00,410.25 L129.50,410.02 L131.00,409.79 L132.50,409.56 L134.00,409.33 L135.50,409.09 L137.00,408.85 L138.50,408.61 L140.00,408.37 L141.50,408.12 L143.00,407.87 L144.50,407.62 L146.00,407.37 L147.50,407.11 L149.00,406.85 L150.50,406.59 L152.00,406.33 L153.50,406.06 L155.00,405.79 L156.50,405.52 L158.00,405.25 L159.50,404.98 L161.00,404.70 L162.50,404.42 L164.00,404.14 L165.50,403.86 L167.00,403.58 L168.50,403.29 L170.00,403.00 L171.50,402.71 L173.00,402.42 L174.50,402.13 L176.00,401.84 L177.50,401.54 L179.00,401.24 L180.50,400.94 L182.00,400.64 L183.50,400.34 L185.00,400.03 L186.50,399.72 L188.00,399.41 L189.50,399.09 L191.00,398.77 L192.50,398.45 L194.00,398.12 L195.50,397.78 L197.00,397.44 L198.50,397.10 L200.00,396.74 L201.50,396.38 L203.00,396.02 L204.50,395.64 L206.00,395.26 L207.50,394.87 L209.00,394.47 L210.50,394.07 L212.00,393.65 L213.50,393.22 L215.00,392.79 L216.50,392.34 L218.00,391.88 L219.50,391.41 L221.00,390.93 L222.50,390.43 L224.00,389.93 L225.50,389.41 L227.00,388.88 L228.50,388.33 L230.00,387.77 L231.50,387.20 L233.00,386.61 L234.50,386.00 L236.00,385.38 L237.50,384.75 L239.00,384.09 L240.50,383.43 L242.00,382.74 L243.50,382.04 L245.00,381.32 L246.50,380.59 L248.00,379.84 L249.50,379.08 L251.00,378.31 L252.50,377.53 L254.00,376.73 L255.50,375.92 L257.00,375.10 L258.50,374.28 L260.00,373.44 L261.50,372.59 L263.00,371.74 L264.50,370.88 L266.00,370.01 L267.50,369.14 L269.00,368.26 L270.50,367.38 L272.00,366.49 L273.50,365.60 L275.00,364.70 L276.50,363.79 L278.00,362.88 L279.50,361.95 L281.00,361.02 L282.50,360.07 L284.00,359.12 L285.50,358.15 L287.00,357.17 L288.50,356.17 L290.00,355.16 L291.50,354.13 L293.00,353.09 L294.50,352.03 L296.00,350.95 L297.50,349.85 L299.00,348.73 L300.50,347.59 L302.00,346.43 L303.50,345.25 L305.00,344.05 L306.50,342.83 L308.00,341.60 L309.50,340.35 L311.00,339.09 L312.50,337.82 L314.00,336.53 L315.50,335.24 L317.00,333.94 L318.50,332.63 L320.00,331.32 L321.50,330.00 L323.00,328.68 L324.50,327.35 L326.00,326.03 L327.50,324.71 L329.00,323.39 L330.50,322.07 L332.00,320.76 L333.50,319.45 L335.00,318.14 L336.50,316.83 L338.00,315.52 L339.50,314.21 L341.00,312.89 L342.50,311.56 L344.00,310.22 L345.50,308.88 L347.00,307.52 L348.50,306.16 L350.00,304.77 L351.50,303.38 L353.00,301.96 L354.50,300.53 L356.00,299.07 L357.50,297.60 L359.00,296.10 L360.50,294.59 L362.00,293.06 L363.50,291.52 L365.00,289.96 L366.50,288.38 L368.00,286.79 L369.50,285.18 L371.00,283.57 L372.50,281.94 L374.00,280.30 L375.50,278.65 L377.00,276.99 L378.50,275.33 L380.00,273.66 L381.50,271.98 L383.00,270.29 L384.50,268.60 L386.00,266.91 L387.50,265.22 L389.00,263.52 L390.50,261.82 L392.00,260.12 L393.50,258.42 L395.00,256.72 L396.50,255.03 L398.00,253.34 L399.50,251.65 L401.00,249.97 L402.50,248.29 L404.00,246.62 L405.50,244.96 L407.00,243.30 L408.50,241.66 L410.00,240.02 L411.50,238.40 L413.00,236.79 L414.50,235.19 L416.00,233.60 L417.50,232.03 L419.00,230.47 L420.50,228.93 L422.00,227.41 L423.50,225.90 L425.00,224.42" fill="none" stroke="#e36c0a" stroke-width="3.2" stroke-linecap="butt" stroke-linejoin="round"/>
<path d="M44.00,415.75 L45.50,415.76 L47.00,415.76 L48.50,415.76 L50.00,415.75 L51.50,415.74 L53.00,415.73 L54.50,415.72 L56.00,415.70 L57.50,415.68 L59.00,415.66 L60.50,415.63 L62.00,415.60 L63.50,415.56 L65.00,415.53 L66.50,415.49 L68.00,415.44 L69.50,415.40 L71.00,415.35 L72.50,415.29 L74.00,415.24 L75.50,415.18 L77.00,415.11 L78.50,415.05 L80.00,414.98 L81.50,414.90 L83.00,414.83 L84.50,414.75 L86.00,414.67 L87.50,414.58 L89.00,414.49 L90.50,414.40 L92.00,414.30 L93.50,414.20 L95.00,414.10 L96.50,414.00 L98.00,413.89 L99.50,413.78 L101.00,413.66 L102.50,413.54 L104.00,413.42 L105.50,413.30 L107.00,413.17 L108.50,413.04 L110.00,412.91 L111.50,412.77 L113.00,412.63 L114.50,412.49 L116.00,412.34 L117.50,412.19 L119.00,412.04 L120.50,411.88 L122.00,411.72 L123.50,411.56 L125.00,411.39 L126.50,411.22 L128.00,411.05 L129.50,410.87 L131.00,410.70 L132.50,410.51 L134.00,410.33 L135.50,410.14 L137.00,409.95 L138.50,409.76 L140.00,409.56 L141.50,409.36 L143.00,409.15 L144.50,408.95 L146.00,408.74 L147.50,408.52 L149.00,408.31 L150.50,408.09 L152.00,407.86 L153.50,407.64 L155.00,407.41 L156.50,407.18 L158.00,406.94 L159.50,406.70 L161.00,406.46 L162.50,406.22 L164.00,405.97 L165.50,405.72 L167.00,405.46 L168.50,405.21 L170.00,404.95 L171.50,404.68 L173.00,404.42 L174.50,404.15 L176.00,403.87 L177.50,403.60 L179.00,403.32 L180.50,403.04 L182.00,402.75 L183.50,402.46 L185.00,402.17 L186.50,401.87 L188.00,401.57 L189.50,401.26 L191.00,400.95 L192.50,400.64 L194.00,400.31 L195.50,399.99 L197.00,399.65 L198.50,399.31 L200.00,398.96 L201.50,398.61 L203.00,398.25 L204.50,397.88 L206.00,397.50 L207.50,397.11 L209.00,396.72 L210.50,396.31 L212.00,395.90 L213.50,395.48 L215.00,395.04 L216.50,394.60 L218.00,394.15 L219.50,393.68 L221.00,393.21 L222.50,392.72 L224.00,392.22 L225.50,391.71 L227.00,391.19 L228.50,390.65 L230.00,390.11 L231.50,389.55 L233.00,388.97 L234.50,388.38 L236.00,387.78 L237.50,387.16 L239.00,386.53 L240.50,385.88 L242.00,385.22 L243.50,384.54 L245.00,383.85 L246.50,383.15 L248.00,382.44 L249.50,381.71 L251.00,380.97 L252.50,380.23 L254.00,379.47 L255.50,378.71 L257.00,377.94 L258.50,377.16 L260.00,376.38 L261.50,375.59 L263.00,374.80 L264.50,374.00 L266.00,373.20 L267.50,372.40 L269.00,371.59 L270.50,370.79 L272.00,369.98 L273.50,369.18 L275.00,368.37 L276.50,367.55 L278.00,366.74 L279.50,365.91 L281.00,365.08 L282.50,364.24 L284.00,363.39 L285.50,362.53 L287.00,361.66 L288.50,360.78 L290.00,359.88 L291.50,358.97 L293.00,358.05 L294.50,357.11 L296.00,356.15 L297.50,355.17 L299.00,354.17 L300.50,353.15 L302.00,352.11 L303.50,351.05 L305.00,349.96 L306.50,348.87 L308.00,347.75 L309.50,346.62 L311.00,345.47 L312.50,344.31 L314.00,343.13 L315.50,341.94 L317.00,340.74 L318.50,339.53 L320.00,338.31 L321.50,337.08 L323.00,335.84 L324.50,334.60 L326.00,333.35 L327.50,332.10 L329.00,330.84 L330.50,329.58 L332.00,328.32 L333.50,327.05 L335.00,325.78 L336.50,324.50 L338.00,323.22 L339.50,321.93 L341.00,320.63 L342.50,319.32 L344.00,317.99 L345.50,316.66 L347.00,315.31 L348.50,313.94 L350.00,312.56 L351.50,311.16 L353.00,309.75 L354.50,308.31 L356.00,306.85 L357.50,305.38 L359.00,303.88 L360.50,302.36 L362.00,300.83 L363.50,299.28 L365.00,297.71 L366.50,296.13 L368.00,294.54 L369.50,292.93 L371.00,291.31 L372.50,289.67 L374.00,288.03 L375.50,286.38 L377.00,284.72 L378.50,283.05 L380.00,281.37 L381.50,279.68 L383.00,278.00 L384.50,276.30 L386.00,274.61 L387.50,272.91 L389.00,271.21 L390.50,269.51 L392.00,267.80 L393.50,266.10 L395.00,264.41 L396.50,262.71 L398.00,261.02 L399.50,259.33 L401.00,257.65 L402.50,255.97 L404.00,254.30 L405.50,252.64 L407.00,250.99 L408.50,249.35 L410.00,247.72 L411.50,246.10 L413.00,244.50 L414.50,242.90 L416.00,241.33 L417.50,239.76 L419.00,238.22 L420.50,236.69 L422.00,235.18 L423.50,233.69 L425.00,232.21" fill="none" stroke="#9dcf85" stroke-width="3.2" stroke-linecap="butt" stroke-linejoin="round"/>
<line x1="361.2" y1="325.90" x2="369.3" y2="325.90" stroke="#000000" stroke-width="2.8"/>
<text x="369.30" y="328.80" font-size="7.85" font-weight="bold" text-anchor="start" fill="#000" stroke="#000" stroke-width="0.3">Arp2/3 + VCA</text>
<line x1="361.2" y1="339.85" x2="369.3" y2="339.85" stroke="#808080" stroke-width="2.8"/>
<text x="369.30" y="342.75" font-size="7.85" font-weight="bold" text-anchor="start" fill="#000" stroke="#000" stroke-width="0.3">Arp2/3 + VCA + 5 ng CK2</text>
<line x1="361.2" y1="353.80" x2="369.3" y2="353.80" stroke="#1ab0ea" stroke-width="2.8"/>
<text x="369.30" y="356.70" font-size="7.85" font-weight="bold" text-anchor="start" fill="#000" stroke="#000" stroke-width="0.3">Arp2/3 + WTCttn</text>
<line x1="361.2" y1="367.75" x2="369.3" y2="367.75" stroke="#c4040f" stroke-width="2.8"/>
<text x="369.30" y="370.65" font-size="7.85" font-weight="bold" text-anchor="start" fill="#000" stroke="#000" stroke-width="0.3">Arp2/3 + WTCttn + 5 ng CK2</text>
<line x1="361.2" y1="381.70" x2="369.3" y2="381.70" stroke="#16216a" stroke-width="2.8"/>
<text x="369.30" y="384.60" font-size="7.85" font-weight="bold" text-anchor="start" fill="#000" stroke="#000" stroke-width="0.3">Arp2/3 + WTCttn + 10 ng CK2</text>
<line x1="361.2" y1="395.65" x2="369.3" y2="395.65" stroke="#7030a0" stroke-width="2.8"/>
<text x="369.30" y="398.55" font-size="7.85" font-weight="bold" text-anchor="start" fill="#000" stroke="#000" stroke-width="0.3">Arp2/3 + WTCttn + 30 ng CK2</text>
<line x1="361.2" y1="409.60" x2="369.3" y2="409.60" stroke="#e36c0a" stroke-width="2.8"/>
<text x="369.30" y="412.50" font-size="7.85" font-weight="bold" text-anchor="start" fill="#000" stroke="#000" stroke-width="0.3">Arp2/3 + 30 ng CK2</text>
<line x1="361.2" y1="423.55" x2="369.3" y2="423.55" stroke="#9dcf85" stroke-width="2.8"/>
<text x="369.30" y="426.45" font-size="7.85" font-weight="bold" text-anchor="start" fill="#000" stroke="#000" stroke-width="0.3">Arp2/3 alone</text>
<line x1="43.70" y1="479.7" x2="43.70" y2="716.30" stroke="#d6d6d6" stroke-width="1.4"/>
<line x1="43.00" y1="716.30" x2="466.70" y2="716.30" stroke="#d6d6d6" stroke-width="1.3"/>
<line x1="43.70" y1="716.30" x2="46.70" y2="716.30" stroke="#dedede" stroke-width="1"/>
<text x="33.60" y="720.00" font-size="10" font-weight="bold" text-anchor="end" fill="#000" stroke="#000" stroke-width="0.3">0</text>
<line x1="43.70" y1="682.50" x2="46.70" y2="682.50" stroke="#dedede" stroke-width="1"/>
<text x="33.60" y="686.20" font-size="10" font-weight="bold" text-anchor="end" fill="#000" stroke="#000" stroke-width="0.3">5</text>
<line x1="43.70" y1="648.70" x2="46.70" y2="648.70" stroke="#dedede" stroke-width="1"/>
<text x="33.60" y="652.40" font-size="10" font-weight="bold" text-anchor="end" fill="#000" stroke="#000" stroke-width="0.3">10</text>
<line x1="43.70" y1="614.90" x2="46.70" y2="614.90" stroke="#dedede" stroke-width="1"/>
<text x="33.60" y="618.60" font-size="10" font-weight="bold" text-anchor="end" fill="#000" stroke="#000" stroke-width="0.3">15</text>
<line x1="43.70" y1="581.10" x2="46.70" y2="581.10" stroke="#dedede" stroke-width="1"/>
<text x="33.60" y="584.80" font-size="10" font-weight="bold" text-anchor="end" fill="#000" stroke="#000" stroke-width="0.3">20</text>
<line x1="43.70" y1="547.30" x2="46.70" y2="547.30" stroke="#dedede" stroke-width="1"/>
<text x="33.60" y="551.00" font-size="10" font-weight="bold" text-anchor="end" fill="#000" stroke="#000" stroke-width="0.3">25</text>
<line x1="43.70" y1="513.50" x2="46.70" y2="513.50" stroke="#dedede" stroke-width="1"/>
<text x="33.60" y="517.20" font-size="10" font-weight="bold" text-anchor="end" fill="#000" stroke="#000" stroke-width="0.3">30</text>
<line x1="43.70" y1="479.70" x2="46.70" y2="479.70" stroke="#dedede" stroke-width="1"/>
<text x="33.60" y="483.40" font-size="10" font-weight="bold" text-anchor="end" fill="#000" stroke="#000" stroke-width="0.3">35</text>
<line x1="43.70" y1="716.30" x2="43.70" y2="713.30" stroke="#dedede" stroke-width="1"/>
<text x="43.70" y="733.20" font-size="10" font-weight="bold" text-anchor="middle" fill="#000" stroke="#000" stroke-width="0.3">0</text>
<line x1="90.70" y1="716.30" x2="90.70" y2="713.30" stroke="#dedede" stroke-width="1"/>
<text x="90.70" y="733.20" font-size="10" font-weight="bold" text-anchor="middle" fill="#000" stroke="#000" stroke-width="0.3">300</text>
<line x1="137.70" y1="716.30" x2="137.70" y2="713.30" stroke="#dedede" stroke-width="1"/>
<text x="137.70" y="733.20" font-size="10" font-weight="bold" text-anchor="middle" fill="#000" stroke="#000" stroke-width="0.3">600</text>
<line x1="184.70" y1="716.30" x2="184.70" y2="713.30" stroke="#dedede" stroke-width="1"/>
<text x="184.70" y="733.20" font-size="10" font-weight="bold" text-anchor="middle" fill="#000" stroke="#000" stroke-width="0.3">900</text>
<line x1="231.70" y1="716.30" x2="231.70" y2="713.30" stroke="#dedede" stroke-width="1"/>
<text x="231.70" y="733.20" font-size="10" font-weight="bold" text-anchor="middle" fill="#000" stroke="#000" stroke-width="0.3">1200</text>
<line x1="278.70" y1="716.30" x2="278.70" y2="713.30" stroke="#dedede" stroke-width="1"/>
<text x="278.70" y="733.20" font-size="10" font-weight="bold" text-anchor="middle" fill="#000" stroke="#000" stroke-width="0.3">1500</text>
<line x1="325.70" y1="716.30" x2="325.70" y2="713.30" stroke="#dedede" stroke-width="1"/>
<text x="325.70" y="733.20" font-size="10" font-weight="bold" text-anchor="middle" fill="#000" stroke="#000" stroke-width="0.3">1800</text>
<line x1="372.70" y1="716.30" x2="372.70" y2="713.30" stroke="#dedede" stroke-width="1"/>
<text x="372.70" y="733.20" font-size="10" font-weight="bold" text-anchor="middle" fill="#000" stroke="#000" stroke-width="0.3">2100</text>
<line x1="419.70" y1="716.30" x2="419.70" y2="713.30" stroke="#dedede" stroke-width="1"/>
<text x="419.70" y="733.20" font-size="10" font-weight="bold" text-anchor="middle" fill="#000" stroke="#000" stroke-width="0.3">2400</text>
<line x1="466.70" y1="716.30" x2="466.70" y2="713.30" stroke="#dedede" stroke-width="1"/>
<text x="466.70" y="733.20" font-size="10" font-weight="bold" text-anchor="middle" fill="#000" stroke="#000" stroke-width="0.3">2700</text>
<text x="255.40" y="745.30" font-size="10.7" font-weight="bold" text-anchor="middle" fill="#000" stroke="#000" stroke-width="0.3">Time (s)</text>
<text x="18.90" y="598.00" font-size="11.25" font-weight="bold" text-anchor="middle" fill="#000" transform="rotate(-90 18.90 598.00)" stroke="#000" stroke-width="0.3">Fluorescence (arbitrary units)</text>
<path d="M44.00,699.59 L45.50,699.51 L47.00,699.44 L48.50,699.36 L50.00,699.29 L51.50,699.22 L53.00,699.14 L54.50,699.07 L56.00,699.00 L57.50,698.92 L59.00,698.85 L60.50,698.77 L62.00,698.70 L63.50,698.62 L65.00,698.54 L66.50,698.47 L68.00,698.39 L69.50,698.30 L71.00,698.22 L72.50,698.13 L74.00,698.05 L75.50,697.96 L77.00,697.87 L78.50,697.77 L80.00,697.68 L81.50,697.58 L83.00,697.48 L84.50,697.37 L86.00,697.26 L87.50,697.15 L89.00,697.04 L90.50,696.92 L92.00,696.80 L93.50,696.67 L95.00,696.55 L96.50,696.41 L98.00,696.28 L99.50,696.13 L101.00,695.99 L102.50,695.84 L104.00,695.68 L105.50,695.52 L107.00,695.36 L108.50,695.18 L110.00,695.01 L111.50,694.83 L113.00,694.64 L114.50,694.45 L116.00,694.25 L117.50,694.04 L119.00,693.83 L120.50,693.62 L122.00,693.39 L123.50,693.16 L125.00,692.92 L126.50,692.68 L128.00,692.43 L129.50,692.17 L131.00,691.91 L132.50,691.63 L134.00,691.35 L135.50,691.06 L137.00,690.77 L138.50,690.46 L140.00,690.15 L141.50,689.83 L143.00,689.50 L144.50,689.16 L146.00,688.82 L147.50,688.46 L149.00,688.10 L150.50,687.73 L152.00,687.34 L153.50,686.95 L155.00,686.55 L156.50,686.14 L158.00,685.72 L159.50,685.28 L161.00,684.84 L162.50,684.39 L164.00,683.93 L165.50,683.46 L167.00,682.97 L168.50,682.48 L170.00,681.97 L171.50,681.46 L173.00,680.93 L174.50,680.39 L176.00,679.84 L177.50,679.27 L179.00,678.70 L180.50,678.11 L182.00,677.52 L183.50,676.90 L185.00,676.28 L186.50,675.65 L188.00,675.00 L189.50,674.34 L191.00,673.66 L192.50,672.97 L194.00,672.27 L195.50,671.56 L197.00,670.83 L198.50,670.09 L200.00,669.33 L201.50,668.57 L203.00,667.78 L204.50,666.98 L206.00,666.17 L207.50,665.34 L209.00,664.50 L210.50,663.64 L212.00,662.77 L213.50,661.88 L215.00,660.97 L216.50,660.05 L218.00,659.11 L219.50,658.15 L221.00,657.18 L222.50,656.19 L224.00,655.18 L225.50,654.15 L227.00,653.10 L228.50,652.04 L230.00,650.96 L231.50,649.85 L233.00,648.73 L234.50,647.59 L236.00,646.43 L237.50,645.25 L239.00,644.05 L240.50,642.83 L242.00,641.59 L243.50,640.32 L245.00,639.04 L246.50,637.74 L248.00,636.42 L249.50,635.08 L251.00,633.73 L252.50,632.36 L254.00,630.97 L255.50,629.56 L257.00,628.14 L258.50,626.70 L260.00,625.25 L261.50,623.79 L263.00,622.31 L264.50,620.82 L266.00,619.31 L267.50,617.80 L269.00,616.27 L270.50,614.73 L272.00,613.18 L273.50,611.62 L275.00,610.05 L276.50,608.47 L278.00,606.88 L279.50,605.28 L281.00,603.68 L282.50,602.07 L284.00,600.45 L285.50,598.83 L287.00,597.20 L288.50,595.57 L290.00,593.94 L291.50,592.30 L293.00,590.66 L294.50,589.02 L296.00,587.39 L297.50,585.75 L299.00,584.12 L300.50,582.48 L302.00,580.86 L303.50,579.23 L305.00,577.62 L306.50,576.01 L308.00,574.40 L309.50,572.81 L311.00,571.22 L312.50,569.64 L314.00,568.07 L315.50,566.52 L317.00,564.97 L318.50,563.44 L320.00,561.92 L321.50,560.42 L323.00,558.93 L324.50,557.46 L326.00,556.00 L327.50,554.55 L329.00,553.12 L330.50,551.71 L332.00,550.31 L333.50,548.93 L335.00,547.57 L336.50,546.22 L338.00,544.88 L339.50,543.57 L341.00,542.27 L342.50,540.98 L344.00,539.71 L345.50,538.46 L347.00,537.23 L348.50,536.01 L350.00,534.81 L351.50,533.63 L353.00,532.47 L354.50,531.32 L356.00,530.19 L357.50,529.08 L359.00,527.99 L360.50,526.92 L362.00,525.86 L363.50,524.83 L365.00,523.81 L366.50,522.81 L368.00,521.83 L369.50,520.87 L371.00,519.93 L372.50,519.01 L374.00,518.11 L375.50,517.23 L377.00,516.36 L378.50,515.52 L380.00,514.70 L381.50,513.90 L383.00,513.12 L384.50,512.36 L386.00,511.62 L387.50,510.90 L389.00,510.21 L390.50,509.53 L392.00,508.88 L393.50,508.25 L395.00,507.64 L396.50,507.05 L398.00,506.48 L399.50,505.94 L401.00,505.41 L402.50,504.91 L404.00,504.44 L405.50,503.98 L407.00,503.55 L408.50,503.14 L410.00,502.76 L411.50,502.40 L413.00,502.06 L414.50,501.75 L416.00,501.46 L417.50,501.19 L419.00,500.95 L420.50,500.73 L422.00,500.53 L423.50,500.37 L425.00,500.22 L426.50,500.10 L428.00,500.01 L429.50,499.94 L431.00,499.89 L432.50,499.87 L434.00,499.88 L435.50,499.91 L437.00,499.97 L438.50,500.06 L440.00,500.17 L441.50,500.30 L443.00,500.47 L444.50,500.66 L446.00,500.87 L447.50,501.12 L449.00,501.39 L450.50,501.69 L452.00,502.01 L453.50,502.36 L455.00,502.74 L456.50,503.15 L458.00,503.59 L459.50,504.05 L461.00,504.55 L462.50,505.07 L464.00,505.62 L465.50,506.19 L467.00,506.80" fill="none" stroke="#18aae8" stroke-width="3.2" stroke-linecap="butt" stroke-linejoin="round"/>
<path d="M44.00,698.59 L45.50,698.51 L47.00,698.43 L48.50,698.35 L50.00,698.27 L51.50,698.19 L53.00,698.11 L54.50,698.03 L56.00,697.95 L57.50,697.86 L59.00,697.78 L60.50,697.70 L62.00,697.62 L63.50,697.53 L65.00,697.45 L66.50,697.36 L68.00,697.27 L69.50,697.18 L71.00,697.09 L72.50,697.00 L74.00,696.91 L75.50,696.81 L77.00,696.72 L78.50,696.62 L80.00,696.52 L81.50,696.42 L83.00,696.31 L84.50,696.21 L86.00,696.10 L87.50,695.99 L89.00,695.87 L90.50,695.76 L92.00,695.64 L93.50,695.52 L95.00,695.39 L96.50,695.27 L98.00,695.14 L99.50,695.00 L101.00,694.86 L102.50,694.72 L104.00,694.58 L105.50,694.43 L107.00,694.28 L108.50,694.13 L110.00,693.97 L111.50,693.81 L113.00,693.64 L114.50,693.47 L116.00,693.30 L117.50,693.12 L119.00,692.93 L120.50,692.74 L122.00,692.55 L123.50,692.35 L125.00,692.15 L126.50,691.94 L128.00,691.73 L129.50,691.51 L131.00,691.29 L132.50,691.06 L134.00,690.83 L135.50,690.59 L137.00,690.35 L138.50,690.10 L140.00,689.84 L141.50,689.58 L143.00,689.31 L144.50,689.04 L146.00,688.76 L147.50,688.47 L149.00,688.18 L150.50,687.88 L152.00,687.57 L153.50,687.26 L155.00,686.94 L156.50,686.61 L158.00,686.28 L159.50,685.94 L161.00,685.59 L162.50,685.24 L164.00,684.87 L165.50,684.50 L167.00,684.13 L168.50,683.74 L170.00,683.35 L171.50,682.95 L173.00,682.54 L174.50,682.12 L176.00,681.70 L177.50,681.27 L179.00,680.82 L180.50,680.38 L182.00,679.92 L183.50,679.45 L185.00,678.97 L186.50,678.49 L188.00,678.00 L189.50,677.49 L191.00,676.98 L192.50,676.46 L194.00,675.93 L195.50,675.39 L197.00,674.84 L198.50,674.28 L200.00,673.71 L201.50,673.14 L203.00,672.55 L204.50,671.95 L206.00,671.34 L207.50,670.73 L209.00,670.10 L210.50,669.46 L212.00,668.82 L213.50,668.16 L215.00,667.50 L216.50,666.82 L218.00,666.14 L219.50,665.45 L221.00,664.75 L222.50,664.04 L224.00,663.32 L225.50,662.59 L227.00,661.85 L228.50,661.10 L230.00,660.35 L231.50,659.59 L233.00,658.81 L234.50,658.03 L236.00,657.24 L237.50,656.44 L239.00,655.64 L240.50,654.82 L242.00,654.00 L243.50,653.16 L245.00,652.32 L246.50,651.47 L248.00,650.61 L249.50,649.75 L251.00,648.88 L252.50,647.99 L254.00,647.10 L255.50,646.21 L257.00,645.30 L258.50,644.39 L260.00,643.46 L261.50,642.53 L263.00,641.60 L264.50,640.65 L266.00,639.70 L267.50,638.74 L269.00,637.77 L270.50,636.80 L272.00,635.82 L273.50,634.83 L275.00,633.83 L276.50,632.82 L278.00,631.81 L279.50,630.79 L281.00,629.77 L282.50,628.73 L284.00,627.69 L285.50,626.65 L287.00,625.59 L288.50,624.53 L290.00,623.47 L291.50,622.39 L293.00,621.31 L294.50,620.22 L296.00,619.13 L297.50,618.03 L299.00,616.92 L300.50,615.80 L302.00,614.68 L303.50,613.56 L305.00,612.42 L306.50,611.29 L308.00,610.14 L309.50,608.99 L311.00,607.83 L312.50,606.67 L314.00,605.50 L315.50,604.32 L317.00,603.14 L318.50,601.95 L320.00,600.76 L321.50,599.56 L323.00,598.36 L324.50,597.15 L326.00,595.93 L327.50,594.71 L329.00,593.49 L330.50,592.27 L332.00,591.04 L333.50,589.81 L335.00,588.57 L336.50,587.34 L338.00,586.10 L339.50,584.86 L341.00,583.62 L342.50,582.38 L344.00,581.15 L345.50,579.91 L347.00,578.67 L348.50,577.43 L350.00,576.20 L351.50,574.96 L353.00,573.73 L354.50,572.50 L356.00,571.28 L357.50,570.06 L359.00,568.84 L360.50,567.63 L362.00,566.42 L363.50,565.21 L365.00,564.01 L366.50,562.82 L368.00,561.63 L369.50,560.45 L371.00,559.28 L372.50,558.12 L374.00,556.96 L375.50,555.81 L377.00,554.67 L378.50,553.53 L380.00,552.41 L381.50,551.30 L383.00,550.19 L384.50,549.10 L386.00,548.01 L387.50,546.94 L389.00,545.87 L390.50,544.82 L392.00,543.77 L393.50,542.73 L395.00,541.71 L396.50,540.69 L398.00,539.68 L399.50,538.68 L401.00,537.70 L402.50,536.72 L404.00,535.75 L405.50,534.79 L407.00,533.84 L408.50,532.90 L410.00,531.97 L411.50,531.05 L413.00,530.14 L414.50,529.23 L416.00,528.33 L417.50,527.45 L419.00,526.57 L420.50,525.69 L422.00,524.83 L423.50,523.97 L425.00,523.11 L426.50,522.27 L428.00,521.43 L429.50,520.59 L431.00,519.76 L432.50,518.94 L434.00,518.12 L435.50,517.31 L437.00,516.50 L438.50,515.69 L440.00,514.89 L441.50,514.10 L443.00,513.30 L444.50,512.51 L446.00,511.72 L447.50,510.94 L449.00,510.16 L450.50,509.38 L452.00,508.60 L453.50,507.83 L455.00,507.05 L456.50,506.28 L458.00,505.51 L459.50,504.74 L461.00,503.97 L462.50,503.20 L464.00,502.43 L465.50,501.66 L467.00,500.89" fill="none" stroke="#c4040f" stroke-width="3.2" stroke-linecap="butt" stroke-linejoin="round"/>
<path d="M44.00,699.59 L45.50,699.60 L47.00,699.62 L48.50,699.63 L50.00,699.64 L51.50,699.64 L53.00,699.65 L54.50,699.65 L56.00,699.65 L57.50,699.65 L59.00,699.65 L60.50,699.64 L62.00,699.64 L63.50,699.63 L65.00,699.61 L66.50,699.60 L68.00,699.58 L69.50,699.57 L71.00,699.55 L72.50,699.52 L74.00,699.50 L75.50,699.47 L77.00,699.44 L78.50,699.41 L80.00,699.37 L81.50,699.34 L83.00,699.30 L84.50,699.25 L86.00,699.21 L87.50,699.16 L89.00,699.11 L90.50,699.06 L92.00,699.01 L93.50,698.95 L95.00,698.89 L96.50,698.83 L98.00,698.77 L99.50,698.70 L101.00,698.63 L102.50,698.56 L104.00,698.49 L105.50,698.41 L107.00,698.33 L108.50,698.25 L110.00,698.16 L111.50,698.07 L113.00,697.98 L114.50,697.89 L116.00,697.79 L117.50,697.69 L119.00,697.59 L120.50,697.49 L122.00,697.38 L123.50,697.27 L125.00,697.16 L126.50,697.04 L128.00,696.92 L129.50,696.80 L131.00,696.68 L132.50,696.55 L134.00,696.42 L135.50,696.29 L137.00,696.15 L138.50,696.01 L140.00,695.87 L141.50,695.72 L143.00,695.58 L144.50,695.42 L146.00,695.27 L147.50,695.11 L149.00,694.95 L150.50,694.79 L152.00,694.62 L153.50,694.45 L155.00,694.28 L156.50,694.10 L158.00,693.92 L159.50,693.74 L161.00,693.55 L162.50,693.36 L164.00,693.17 L165.50,692.97 L167.00,692.77 L168.50,692.57 L170.00,692.37 L171.50,692.16 L173.00,691.94 L174.50,691.73 L176.00,691.51 L177.50,691.29 L179.00,691.06 L180.50,690.83 L182.00,690.60 L183.50,690.36 L185.00,690.12 L186.50,689.87 L188.00,689.63 L189.50,689.38 L191.00,689.12 L192.50,688.86 L194.00,688.60 L195.50,688.34 L197.00,688.07 L198.50,687.79 L200.00,687.52 L201.50,687.24 L203.00,686.95 L204.50,686.67 L206.00,686.37 L207.50,686.08 L209.00,685.78 L210.50,685.48 L212.00,685.17 L213.50,684.86 L215.00,684.55 L216.50,684.23 L218.00,683.91 L219.50,683.58 L221.00,683.25 L222.50,682.92 L224.00,682.58 L225.50,682.24 L227.00,681.89 L228.50,681.54 L230.00,681.19 L231.50,680.83 L233.00,680.47 L234.50,680.10 L236.00,679.73 L237.50,679.36 L239.00,678.98 L240.50,678.60 L242.00,678.21 L243.50,677.82 L245.00,677.43 L246.50,677.03 L248.00,676.63 L249.50,676.22 L251.00,675.81 L252.50,675.39 L254.00,674.97 L255.50,674.55 L257.00,674.12 L258.50,673.69 L260.00,673.25 L261.50,672.81 L263.00,672.36 L264.50,671.91 L266.00,671.46 L267.50,671.00 L269.00,670.53 L270.50,670.07 L272.00,669.59 L273.50,669.12 L275.00,668.64 L276.50,668.15 L278.00,667.66 L279.50,667.16 L281.00,666.66 L282.50,666.16 L284.00,665.65 L285.50,665.14 L287.00,664.62 L288.50,664.10 L290.00,663.57 L291.50,663.04 L293.00,662.50 L294.50,661.96 L296.00,661.41 L297.50,660.86 L299.00,660.30 L300.50,659.74 L302.00,659.18 L303.50,658.61 L305.00,658.03 L306.50,657.45 L308.00,656.87 L309.50,656.28 L311.00,655.68 L312.50,655.08 L314.00,654.48 L315.50,653.87 L317.00,653.25 L318.50,652.63 L320.00,652.01 L321.50,651.38 L323.00,650.74 L324.50,650.10 L326.00,649.46 L327.50,648.81 L329.00,648.16 L330.50,647.51 L332.00,646.85 L333.50,646.19 L335.00,645.52 L336.50,644.85 L338.00,644.18 L339.50,643.51 L341.00,642.84 L342.50,642.16 L344.00,641.48 L345.50,640.80 L347.00,640.12 L348.50,639.44 L350.00,638.75 L351.50,638.07 L353.00,637.38 L354.50,636.70 L356.00,636.01 L357.50,635.33 L359.00,634.64 L360.50,633.96 L362.00,633.28 L363.50,632.60 L365.00,631.92 L366.50,631.24 L368.00,630.56 L369.50,629.89 L371.00,629.21 L372.50,628.54 L374.00,627.88 L375.50,627.21 L377.00,626.55 L378.50,625.89 L380.00,625.24 L381.50,624.58 L383.00,623.94 L384.50,623.29 L386.00,622.65 L387.50,622.01 L389.00,621.38 L390.50,620.74 L392.00,620.11 L393.50,619.48 L395.00,618.85 L396.50,618.22 L398.00,617.60 L399.50,616.97 L401.00,616.35 L402.50,615.72 L404.00,615.10 L405.50,614.47 L407.00,613.85 L408.50,613.22 L410.00,612.59 L411.50,611.96 L413.00,611.33 L414.50,610.69 L416.00,610.05 L417.50,609.41 L419.00,608.76 L420.50,608.10 L422.00,607.44 L423.50,606.77 L425.00,606.10 L426.50,605.41 L428.00,604.72 L429.50,604.02 L431.00,603.31 L432.50,602.60 L434.00,601.87 L435.50,601.13 L437.00,600.37 L438.50,599.61 L440.00,598.83 L441.50,598.04 L443.00,597.24 L444.50,596.42 L446.00,595.58 L447.50,594.74 L449.00,593.87 L450.50,592.99 L452.00,592.09 L453.50,591.17 L455.00,590.24 L456.50,589.29 L458.00,588.31 L459.50,587.32 L461.00,586.31 L462.50,585.27 L464.00,584.22 L465.50,583.14 L467.00,582.04" fill="none" stroke="#1fa04a" stroke-width="3.2" stroke-linecap="butt" stroke-linejoin="round"/>
<path d="M44.00,698.72 L45.50,698.71 L47.00,698.69 L48.50,698.68 L50.00,698.66 L51.50,698.64 L53.00,698.62 L54.50,698.59 L56.00,698.57 L57.50,698.54 L59.00,698.51 L60.50,698.48 L62.00,698.45 L63.50,698.41 L65.00,698.37 L66.50,698.33 L68.00,698.29 L69.50,698.25 L71.00,698.20 L72.50,698.16 L74.00,698.11 L75.50,698.05 L77.00,698.00 L78.50,697.94 L80.00,697.88 L81.50,697.82 L83.00,697.76 L84.50,697.70 L86.00,697.63 L87.50,697.56 L89.00,697.49 L90.50,697.41 L92.00,697.34 L93.50,697.26 L95.00,697.18 L96.50,697.09 L98.00,697.01 L99.50,696.92 L101.00,696.83 L102.50,696.73 L104.00,696.64 L105.50,696.54 L107.00,696.44 L108.50,696.34 L110.00,696.23 L111.50,696.12 L113.00,696.01 L114.50,695.90 L116.00,695.78 L117.50,695.66 L119.00,695.54 L120.50,695.42 L122.00,695.29 L123.50,695.16 L125.00,695.03 L126.50,694.90 L128.00,694.76 L129.50,694.62 L131.00,694.47 L132.50,694.33 L134.00,694.18 L135.50,694.03 L137.00,693.87 L138.50,693.72 L140.00,693.56 L141.50,693.39 L143.00,693.23 L144.50,693.06 L146.00,692.89 L147.50,692.71 L149.00,692.53 L150.50,692.35 L152.00,692.17 L153.50,691.98 L155.00,691.79 L156.50,691.60 L158.00,691.40 L159.50,691.21 L161.00,691.00 L162.50,690.80 L164.00,690.59 L165.50,690.38 L167.00,690.16 L168.50,689.94 L170.00,689.72 L171.50,689.50 L173.00,689.27 L174.50,689.04 L176.00,688.81 L177.50,688.57 L179.00,688.33 L180.50,688.08 L182.00,687.83 L183.50,687.58 L185.00,687.33 L186.50,687.07 L188.00,686.81 L189.50,686.54 L191.00,686.28 L192.50,686.00 L194.00,685.73 L195.50,685.45 L197.00,685.17 L198.50,684.88 L200.00,684.59 L201.50,684.30 L203.00,684.00 L204.50,683.70 L206.00,683.40 L207.50,683.09 L209.00,682.78 L210.50,682.46 L212.00,682.15 L213.50,681.82 L215.00,681.50 L216.50,681.17 L218.00,680.83 L219.50,680.50 L221.00,680.15 L222.50,679.81 L224.00,679.46 L225.50,679.11 L227.00,678.75 L228.50,678.39 L230.00,678.03 L231.50,677.66 L233.00,677.28 L234.50,676.91 L236.00,676.53 L237.50,676.14 L239.00,675.75 L240.50,675.36 L242.00,674.97 L243.50,674.56 L245.00,674.16 L246.50,673.75 L248.00,673.34 L249.50,672.92 L251.00,672.50 L252.50,672.07 L254.00,671.64 L255.50,671.21 L257.00,670.77 L258.50,670.33 L260.00,669.88 L261.50,669.43 L263.00,668.98 L264.50,668.52 L266.00,668.05 L267.50,667.59 L269.00,667.11 L270.50,666.64 L272.00,666.15 L273.50,665.67 L275.00,665.18 L276.50,664.68 L278.00,664.18 L279.50,663.68 L281.00,663.17 L282.50,662.66 L284.00,662.14 L285.50,661.62 L287.00,661.09 L288.50,660.56 L290.00,660.03 L291.50,659.49 L293.00,658.94 L294.50,658.39 L296.00,657.84 L297.50,657.28 L299.00,656.72 L300.50,656.15 L302.00,655.57 L303.50,655.00 L305.00,654.41 L306.50,653.83 L308.00,653.23 L309.50,652.64 L311.00,652.03 L312.50,651.43 L314.00,650.82 L315.50,650.20 L317.00,649.58 L318.50,648.95 L320.00,648.32 L321.50,647.68 L323.00,647.04 L324.50,646.40 L326.00,645.75 L327.50,645.09 L329.00,644.43 L330.50,643.77 L332.00,643.11 L333.50,642.44 L335.00,641.77 L336.50,641.09 L338.00,640.42 L339.50,639.74 L341.00,639.06 L342.50,638.38 L344.00,637.69 L345.50,637.01 L347.00,636.32 L348.50,635.63 L350.00,634.95 L351.50,634.26 L353.00,633.57 L354.50,632.88 L356.00,632.19 L357.50,631.50 L359.00,630.82 L360.50,630.13 L362.00,629.44 L363.50,628.76 L365.00,628.08 L366.50,627.40 L368.00,626.72 L369.50,626.04 L371.00,625.37 L372.50,624.70 L374.00,624.03 L375.50,623.37 L377.00,622.71 L378.50,622.05 L380.00,621.39 L381.50,620.74 L383.00,620.10 L384.50,619.46 L386.00,618.82 L387.50,618.18 L389.00,617.55 L390.50,616.92 L392.00,616.29 L393.50,615.66 L395.00,615.04 L396.50,614.42 L398.00,613.80 L399.50,613.18 L401.00,612.56 L402.50,611.94 L404.00,611.32 L405.50,610.70 L407.00,610.08 L408.50,609.46 L410.00,608.84 L411.50,608.22 L413.00,607.59 L414.50,606.96 L416.00,606.33 L417.50,605.70 L419.00,605.05 L420.50,604.41 L422.00,603.75 L423.50,603.10 L425.00,602.43 L426.50,601.75 L428.00,601.07 L429.50,600.38 L431.00,599.68 L432.50,598.97 L434.00,598.25 L435.50,597.52 L437.00,596.77 L438.50,596.02 L440.00,595.25 L441.50,594.46 L443.00,593.67 L444.50,592.86 L446.00,592.03 L447.50,591.19 L449.00,590.33 L450.50,589.46 L452.00,588.57 L453.50,587.66 L455.00,586.73 L456.50,585.78 L458.00,584.81 L459.50,583.83 L461.00,582.82 L462.50,581.79 L464.00,580.74 L465.50,579.67 L467.00,578.57" fill="none" stroke="#7030a0" stroke-width="3.2" stroke-linecap="butt" stroke-linejoin="round"/>
<line x1="392.6" y1="544.5" x2="393.0" y2="548.6" stroke="#c4040f" stroke-width="1.8" stroke-linecap="round"/>
<line x1="364.1" y1="672.20" x2="372.4" y2="672.20" stroke="#18aae8" stroke-width="2.8"/>
<text x="372.40" y="675.10" font-size="7.9" font-weight="bold" text-anchor="start" fill="#000" stroke="#000" stroke-width="0.3">Arp2/3 + WTCttn</text>
<line x1="364.1" y1="683.07" x2="372.4" y2="683.07" stroke="#c4040f" stroke-width="2.8"/>
<text x="372.40" y="685.97" font-size="7.9" font-weight="bold" text-anchor="start" fill="#000" stroke="#000" stroke-width="0.3">Arp2/3 + WTCttn + CK2</text>
<line x1="364.1" y1="693.94" x2="372.4" y2="693.94" stroke="#1fa04a" stroke-width="2.8"/>
<text x="372.40" y="696.84" font-size="7.9" font-weight="bold" text-anchor="start" fill="#000" stroke="#000" stroke-width="0.3">Arp2/3 + T24ACttn</text>
<line x1="364.1" y1="704.81" x2="372.4" y2="704.81" stroke="#7030a0" stroke-width="2.8"/>
<text x="372.40" y="707.71" font-size="7.9" font-weight="bold" text-anchor="start" fill="#000" stroke="#000" stroke-width="0.3">Arp2/3 + T24ACttn + CK2</text>
</svg>
</body></html>
